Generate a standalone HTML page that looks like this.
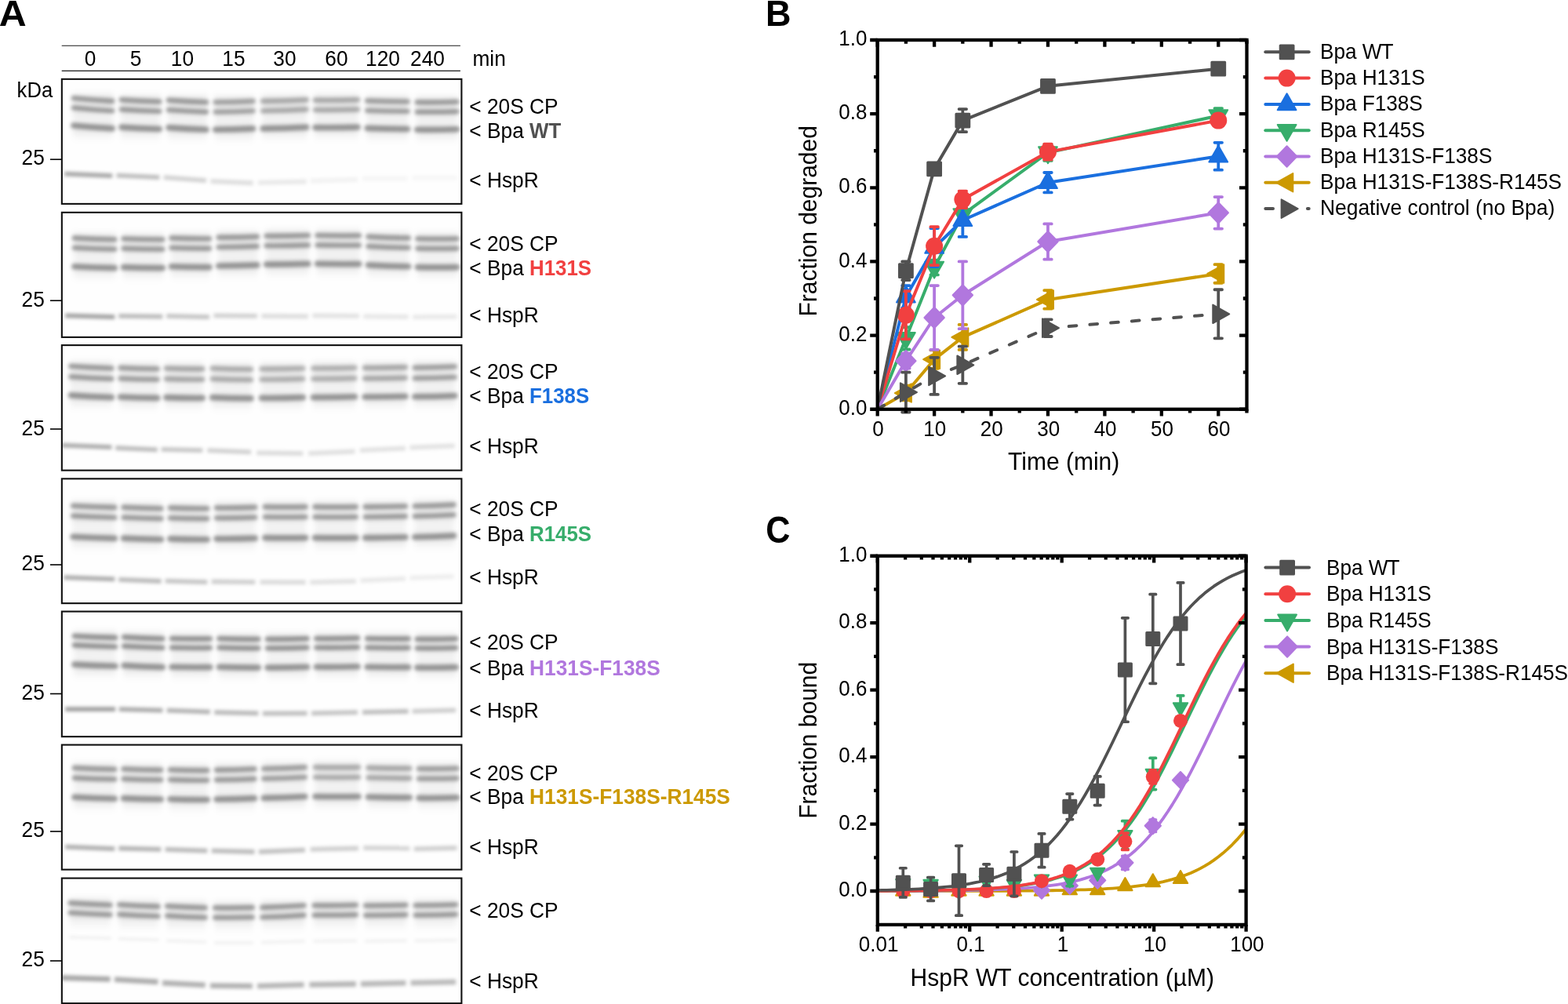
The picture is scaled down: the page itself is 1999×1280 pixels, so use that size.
<!DOCTYPE html>
<html lang="en"><head><meta charset="utf-8"><title>Figure</title>
<style>
html,body{margin:0;padding:0;background:#fff;overflow:hidden}
svg{display:block}
text{font-family:"Liberation Sans",Arial,Helvetica,sans-serif;fill:#000}
.b{font-weight:bold}
</style></head>
<body>
<svg width="1999" height="1280" viewBox="0 0 1999 1280">
<defs>
<filter id="bl0" filterUnits="userSpaceOnUse" x="70" y="95.0" width="530" height="172"><feGaussianBlur stdDeviation="2.3 2.2"/></filter>
<filter id="sm0" filterUnits="userSpaceOnUse" x="70" y="95.0" width="530" height="172"><feGaussianBlur stdDeviation="3 5"/></filter>
<filter id="hs0" filterUnits="userSpaceOnUse" x="70" y="95.0" width="530" height="172"><feGaussianBlur stdDeviation="2.2 2.0"/></filter>
<filter id="bl1" filterUnits="userSpaceOnUse" x="70" y="265.0" width="530" height="172"><feGaussianBlur stdDeviation="2.3 2.2"/></filter>
<filter id="sm1" filterUnits="userSpaceOnUse" x="70" y="265.0" width="530" height="172"><feGaussianBlur stdDeviation="3 5"/></filter>
<filter id="hs1" filterUnits="userSpaceOnUse" x="70" y="265.0" width="530" height="172"><feGaussianBlur stdDeviation="2.2 2.0"/></filter>
<filter id="bl2" filterUnits="userSpaceOnUse" x="70" y="434.25" width="530" height="172"><feGaussianBlur stdDeviation="2.3 2.2"/></filter>
<filter id="sm2" filterUnits="userSpaceOnUse" x="70" y="434.25" width="530" height="172"><feGaussianBlur stdDeviation="3 5"/></filter>
<filter id="hs2" filterUnits="userSpaceOnUse" x="70" y="434.25" width="530" height="172"><feGaussianBlur stdDeviation="2.2 2.0"/></filter>
<filter id="bl3" filterUnits="userSpaceOnUse" x="70" y="604.5" width="530" height="172"><feGaussianBlur stdDeviation="2.3 2.2"/></filter>
<filter id="sm3" filterUnits="userSpaceOnUse" x="70" y="604.5" width="530" height="172"><feGaussianBlur stdDeviation="3 5"/></filter>
<filter id="hs3" filterUnits="userSpaceOnUse" x="70" y="604.5" width="530" height="172"><feGaussianBlur stdDeviation="2.2 2.0"/></filter>
<filter id="bl4" filterUnits="userSpaceOnUse" x="70" y="773.75" width="530" height="172"><feGaussianBlur stdDeviation="2.3 2.2"/></filter>
<filter id="sm4" filterUnits="userSpaceOnUse" x="70" y="773.75" width="530" height="172"><feGaussianBlur stdDeviation="3 5"/></filter>
<filter id="hs4" filterUnits="userSpaceOnUse" x="70" y="773.75" width="530" height="172"><feGaussianBlur stdDeviation="2.2 2.0"/></filter>
<filter id="bl5" filterUnits="userSpaceOnUse" x="70" y="943.75" width="530" height="172"><feGaussianBlur stdDeviation="2.3 2.2"/></filter>
<filter id="sm5" filterUnits="userSpaceOnUse" x="70" y="943.75" width="530" height="172"><feGaussianBlur stdDeviation="3 5"/></filter>
<filter id="hs5" filterUnits="userSpaceOnUse" x="70" y="943.75" width="530" height="172"><feGaussianBlur stdDeviation="2.2 2.0"/></filter>
<filter id="bl6" filterUnits="userSpaceOnUse" x="70" y="1113.75" width="530" height="172"><feGaussianBlur stdDeviation="2.3 2.2"/></filter>
<filter id="sm6" filterUnits="userSpaceOnUse" x="70" y="1113.75" width="530" height="172"><feGaussianBlur stdDeviation="3 5"/></filter>
<filter id="hs6" filterUnits="userSpaceOnUse" x="70" y="1113.75" width="530" height="172"><feGaussianBlur stdDeviation="2.2 2.0"/></filter>
</defs>
<rect width="1999" height="1280" fill="#fff"/>
<g id="panelA">
<text transform="translate(-1.2 33) scale(1.075 1.04)" font-size="45" class="b">A</text>
<line x1="78.7" y1="58.2" x2="586.9" y2="58.2" stroke="#1a1a1a" stroke-width="1.1"/>
<line x1="78.7" y1="90.4" x2="586.9" y2="90.4" stroke="#1a1a1a" stroke-width="1.1"/>
<text transform="translate(115 84.3) scale(1 1.04)" font-size="26.3" text-anchor="middle">0</text>
<text transform="translate(173 84.3) scale(1 1.04)" font-size="26.3" text-anchor="middle">5</text>
<text transform="translate(232.5 84.3) scale(1 1.04)" font-size="26.3" text-anchor="middle">10</text>
<text transform="translate(298 84.3) scale(1 1.04)" font-size="26.3" text-anchor="middle">15</text>
<text transform="translate(363 84.3) scale(1 1.04)" font-size="26.3" text-anchor="middle">30</text>
<text transform="translate(429 84.3) scale(1 1.04)" font-size="26.3" text-anchor="middle">60</text>
<text transform="translate(488 84.3) scale(1 1.04)" font-size="26.3" text-anchor="middle">120</text>
<text transform="translate(545 84.3) scale(1 1.04)" font-size="26.3" text-anchor="middle">240</text>
<text transform="translate(602.4 84.3) scale(1 1.04)" font-size="26.3">min</text>
<text transform="translate(21.6 124.3) scale(1 1.04)" font-size="26.3" textLength="45.6" lengthAdjust="spacingAndGlyphs">kDa</text>
<g id="gel1">
<rect x="78.85" y="100.85" width="509.55" height="159.05" fill="#fefefe"/>
<clipPath id="c0"><rect x="79.5" y="101.5" width="508.25" height="157.75"/></clipPath>
<g clip-path="url(#c0)">
<g filter="url(#sm0)" fill="#000">
<rect x="93.7" y="120.9" width="49.7" height="55.0" opacity="0.04"/>
<rect x="91.7" y="121.4" width="53.7" height="11" opacity="0.075"/>
<rect x="91.7" y="133.9" width="53.7" height="11" opacity="0.075"/>
<rect x="91.7" y="156.4" width="53.7" height="11" opacity="0.075"/>
<rect x="154.7" y="122.3" width="48.9" height="55.0" opacity="0.04"/>
<rect x="152.7" y="122.8" width="52.9" height="11" opacity="0.075"/>
<rect x="152.7" y="135.2" width="52.9" height="11" opacity="0.075"/>
<rect x="152.7" y="157.8" width="52.9" height="11" opacity="0.075"/>
<rect x="214.8" y="122.9" width="48.3" height="55.0" opacity="0.04"/>
<rect x="212.8" y="123.4" width="52.3" height="11" opacity="0.075"/>
<rect x="212.8" y="135.9" width="52.3" height="11" opacity="0.075"/>
<rect x="212.8" y="158.4" width="52.3" height="11" opacity="0.075"/>
<rect x="274.5" y="123.6" width="48.3" height="55.0" opacity="0.04"/>
<rect x="272.5" y="124.1" width="52.3" height="11" opacity="0.075"/>
<rect x="272.5" y="136.6" width="52.3" height="11" opacity="0.075"/>
<rect x="272.5" y="159.1" width="52.3" height="11" opacity="0.075"/>
<rect x="334.9" y="122.0" width="56.0" height="55.0" opacity="0.04"/>
<rect x="332.9" y="122.5" width="60.0" height="11" opacity="0.075"/>
<rect x="332.9" y="135.0" width="60.0" height="11" opacity="0.075"/>
<rect x="332.9" y="157.5" width="60.0" height="11" opacity="0.075"/>
<rect x="401.7" y="121.3" width="54.4" height="55.0" opacity="0.04"/>
<rect x="399.7" y="121.8" width="58.4" height="11" opacity="0.075"/>
<rect x="399.7" y="134.3" width="58.4" height="11" opacity="0.075"/>
<rect x="399.7" y="156.8" width="58.4" height="11" opacity="0.075"/>
<rect x="468.0" y="122.9" width="51.8" height="55.0" opacity="0.04"/>
<rect x="466.0" y="123.4" width="55.8" height="11" opacity="0.075"/>
<rect x="466.0" y="135.9" width="55.8" height="11" opacity="0.075"/>
<rect x="466.0" y="158.4" width="55.8" height="11" opacity="0.075"/>
<rect x="531.6" y="124.0" width="51.0" height="55.0" opacity="0.04"/>
<rect x="529.6" y="124.5" width="55.0" height="11" opacity="0.075"/>
<rect x="529.6" y="137.0" width="55.0" height="11" opacity="0.075"/>
<rect x="529.6" y="159.5" width="55.0" height="11" opacity="0.075"/>
</g>
<g filter="url(#bl0)" stroke="#000" stroke-linecap="round" fill="none">
<path d="M93.9 125.0Q118.5 127.5 143.2 128.9" stroke-width="6.6" opacity="0.32"/>
<path d="M93.9 137.4Q118.5 140.0 143.2 141.4" stroke-width="6.4" opacity="0.32"/>
<path d="M93.9 160.0Q118.5 162.5 143.2 163.9" stroke-width="7.6" opacity="0.35"/>
<path d="M154.9 127.1Q179.1 128.9 203.3 129.5" stroke-width="6.6" opacity="0.32"/>
<path d="M154.9 139.5Q179.1 141.3 203.3 141.9" stroke-width="6.4" opacity="0.32"/>
<path d="M154.9 162.1Q179.1 163.9 203.3 164.5" stroke-width="7.6" opacity="0.35"/>
<path d="M215.0 127.6Q239.0 129.5 263.0 130.3" stroke-width="6.6" opacity="0.32"/>
<path d="M215.0 140.1Q239.0 142.0 263.0 142.7" stroke-width="6.4" opacity="0.32"/>
<path d="M215.0 162.6Q239.0 164.5 263.0 165.3" stroke-width="7.6" opacity="0.35"/>
<path d="M274.7 130.3Q298.7 130.2 322.6 128.9" stroke-width="6.6" opacity="0.294"/>
<path d="M274.7 142.7Q298.7 142.7 322.6 141.4" stroke-width="6.4" opacity="0.294"/>
<path d="M274.7 165.3Q298.7 165.2 322.6 163.9" stroke-width="7.6" opacity="0.35"/>
<path d="M335.1 128.9Q362.9 128.6 390.8 127.1" stroke-width="6.6" opacity="0.262"/>
<path d="M335.1 141.4Q362.9 141.1 390.8 139.5" stroke-width="6.4" opacity="0.262"/>
<path d="M335.1 163.9Q362.9 163.6 390.8 162.1" stroke-width="7.6" opacity="0.35"/>
<path d="M401.9 127.6Q429.0 127.9 456.0 127.1" stroke-width="6.6" opacity="0.262"/>
<path d="M401.9 140.1Q429.0 140.4 456.0 139.5" stroke-width="6.4" opacity="0.262"/>
<path d="M401.9 162.6Q429.0 162.9 456.0 162.1" stroke-width="7.6" opacity="0.35"/>
<path d="M468.2 128.4Q493.9 129.5 519.6 129.5" stroke-width="6.6" opacity="0.304"/>
<path d="M468.2 140.9Q493.9 142.0 519.6 141.9" stroke-width="6.4" opacity="0.304"/>
<path d="M468.2 163.4Q493.9 164.5 519.6 164.5" stroke-width="7.6" opacity="0.35"/>
<path d="M531.8 130.3Q557.1 130.6 582.4 129.7" stroke-width="6.6" opacity="0.32"/>
<path d="M531.8 142.7Q557.1 143.1 582.4 142.2" stroke-width="6.4" opacity="0.32"/>
<path d="M531.8 165.3Q557.1 165.6 582.4 164.7" stroke-width="7.6" opacity="0.35"/>
</g>
<g filter="url(#hs0)" stroke="#000" stroke-linecap="butt" fill="none">
<line x1="82.2" y1="221.7" x2="143.2" y2="224.1" stroke-width="5.8" opacity="0.340"/>
<line x1="148.7" y1="223.6" x2="203.3" y2="226.2" stroke-width="5.8" opacity="0.255"/>
<line x1="208.8" y1="226.2" x2="263.0" y2="230.2" stroke-width="5.8" opacity="0.178"/>
<line x1="268.5" y1="231.0" x2="322.6" y2="233.4" stroke-width="5.8" opacity="0.128"/>
<line x1="328.9" y1="232.9" x2="390.8" y2="231.5" stroke-width="5.8" opacity="0.085"/>
<line x1="395.7" y1="230.7" x2="456.0" y2="228.9" stroke-width="5.8" opacity="0.051"/>
<line x1="462.0" y1="227.6" x2="519.6" y2="227.6" stroke-width="5.8" opacity="0.034"/>
<line x1="525.6" y1="226.8" x2="582.4" y2="226.8" stroke-width="5.8" opacity="0.030"/>
</g>
</g>
<rect x="78.85" y="100.85" width="509.55" height="159.05" fill="none" stroke="#111" stroke-width="2.1"/>
<text transform="translate(27.6 209.75) scale(1 1.04)" font-size="26.3">25</text>
<line x1="64" y1="203.25" x2="78.5" y2="203.25" stroke="#000" stroke-width="1.6"/>
<text transform="translate(598.3 144.5) scale(1 1.04)" font-size="26.3">&lt; 20S CP</text>
<text transform="translate(598.3 175.75) scale(1 1.04)" font-size="26.3">&lt; Bpa <tspan class="b" font-size="25.85" fill="#515151">WT</tspan></text>
<text transform="translate(598.3 238.75) scale(1 1.04)" font-size="26.3">&lt; HspR</text>
</g>
<g id="gel2">
<rect x="78.85" y="270.85" width="509.55" height="159.05" fill="#fefefe"/>
<clipPath id="c1"><rect x="79.5" y="271.5" width="508.25" height="157.75"/></clipPath>
<g clip-path="url(#c1)">
<g filter="url(#sm1)" fill="#000">
<rect x="94.7" y="298.4" width="51.8" height="56.3" opacity="0.04"/>
<rect x="92.7" y="298.9" width="55.8" height="11" opacity="0.075"/>
<rect x="92.7" y="311.3" width="55.8" height="11" opacity="0.075"/>
<rect x="92.7" y="335.2" width="55.8" height="11" opacity="0.075"/>
<rect x="157.3" y="298.8" width="50.2" height="56.3" opacity="0.04"/>
<rect x="155.3" y="299.3" width="54.2" height="11" opacity="0.075"/>
<rect x="155.3" y="311.7" width="54.2" height="11" opacity="0.075"/>
<rect x="155.3" y="335.6" width="54.2" height="11" opacity="0.075"/>
<rect x="218.3" y="297.8" width="48.9" height="56.3" opacity="0.04"/>
<rect x="216.3" y="298.3" width="52.9" height="11" opacity="0.075"/>
<rect x="216.3" y="310.8" width="52.9" height="11" opacity="0.075"/>
<rect x="216.3" y="334.7" width="52.9" height="11" opacity="0.075"/>
<rect x="278.5" y="296.1" width="49.7" height="56.3" opacity="0.04"/>
<rect x="276.5" y="296.6" width="53.7" height="11" opacity="0.075"/>
<rect x="276.5" y="309.1" width="53.7" height="11" opacity="0.075"/>
<rect x="276.5" y="332.9" width="53.7" height="11" opacity="0.075"/>
<rect x="339.4" y="294.4" width="53.7" height="56.3" opacity="0.04"/>
<rect x="337.4" y="294.9" width="57.7" height="11" opacity="0.075"/>
<rect x="337.4" y="307.4" width="57.7" height="11" opacity="0.075"/>
<rect x="337.4" y="331.2" width="57.7" height="11" opacity="0.075"/>
<rect x="404.4" y="294.1" width="53.7" height="56.3" opacity="0.04"/>
<rect x="402.4" y="294.6" width="57.7" height="11" opacity="0.075"/>
<rect x="402.4" y="307.1" width="57.7" height="11" opacity="0.075"/>
<rect x="402.4" y="330.9" width="57.7" height="11" opacity="0.075"/>
<rect x="469.3" y="296.5" width="51.5" height="56.3" opacity="0.04"/>
<rect x="467.3" y="297.0" width="55.5" height="11" opacity="0.075"/>
<rect x="467.3" y="309.5" width="55.5" height="11" opacity="0.075"/>
<rect x="467.3" y="333.3" width="55.5" height="11" opacity="0.075"/>
<rect x="532.2" y="298.2" width="50.5" height="56.3" opacity="0.04"/>
<rect x="530.2" y="298.7" width="54.5" height="11" opacity="0.075"/>
<rect x="530.2" y="311.2" width="54.5" height="11" opacity="0.075"/>
<rect x="530.2" y="335.1" width="54.5" height="11" opacity="0.075"/>
</g>
<g filter="url(#bl1)" stroke="#000" stroke-linecap="round" fill="none">
<path d="M94.9 303.4Q120.6 305.0 146.3 305.3" stroke-width="6.6" opacity="0.32"/>
<path d="M94.9 315.9Q120.6 317.4 146.3 317.8" stroke-width="6.4" opacity="0.32"/>
<path d="M94.9 339.8Q120.6 341.3 146.3 341.6" stroke-width="7.6" opacity="0.35"/>
<path d="M157.5 304.2Q182.4 305.4 207.3 305.3" stroke-width="6.6" opacity="0.32"/>
<path d="M157.5 316.7Q182.4 317.8 207.3 317.8" stroke-width="6.4" opacity="0.32"/>
<path d="M157.5 340.6Q182.4 341.7 207.3 341.6" stroke-width="7.6" opacity="0.35"/>
<path d="M218.5 303.4Q242.7 304.4 267.0 304.2" stroke-width="6.6" opacity="0.32"/>
<path d="M218.5 315.9Q242.7 316.9 267.0 316.7" stroke-width="6.4" opacity="0.32"/>
<path d="M218.5 339.8Q242.7 340.8 267.0 340.6" stroke-width="7.6" opacity="0.35"/>
<path d="M278.7 302.6Q303.3 302.7 327.9 301.6" stroke-width="6.6" opacity="0.32"/>
<path d="M278.7 315.1Q303.3 315.2 327.9 314.0" stroke-width="6.4" opacity="0.32"/>
<path d="M278.7 339.0Q303.3 339.0 327.9 337.9" stroke-width="7.6" opacity="0.35"/>
<path d="M339.6 300.8Q366.3 301.0 392.9 300.0" stroke-width="6.6" opacity="0.32"/>
<path d="M339.6 313.3Q366.3 313.5 392.9 312.5" stroke-width="6.4" opacity="0.32"/>
<path d="M339.6 337.1Q366.3 337.3 392.9 336.3" stroke-width="7.6" opacity="0.35"/>
<path d="M404.6 300.0Q431.2 300.7 457.8 300.3" stroke-width="6.6" opacity="0.32"/>
<path d="M404.6 312.5Q431.2 313.2 457.8 312.7" stroke-width="6.4" opacity="0.32"/>
<path d="M404.6 336.3Q431.2 337.0 457.8 336.6" stroke-width="7.6" opacity="0.35"/>
<path d="M469.5 301.6Q495.1 303.1 520.7 303.4" stroke-width="6.6" opacity="0.32"/>
<path d="M469.5 314.0Q495.1 315.6 520.7 315.9" stroke-width="6.4" opacity="0.32"/>
<path d="M469.5 337.9Q495.1 339.4 520.7 339.8" stroke-width="7.6" opacity="0.35"/>
<path d="M532.4 304.2Q557.4 304.8 582.4 304.2" stroke-width="6.6" opacity="0.32"/>
<path d="M532.4 316.7Q557.4 317.3 582.4 316.7" stroke-width="6.4" opacity="0.32"/>
<path d="M532.4 340.6Q557.4 341.2 582.4 340.6" stroke-width="7.6" opacity="0.35"/>
</g>
<g filter="url(#hs1)" stroke="#000" stroke-linecap="butt" fill="none">
<line x1="83.2" y1="402.3" x2="146.3" y2="404.2" stroke-width="5.8" opacity="0.361"/>
<line x1="151.3" y1="402.9" x2="207.3" y2="403.7" stroke-width="5.8" opacity="0.266"/>
<line x1="212.3" y1="402.9" x2="267.0" y2="404.2" stroke-width="5.8" opacity="0.228"/>
<line x1="272.5" y1="402.3" x2="327.9" y2="402.9" stroke-width="5.8" opacity="0.180"/>
<line x1="333.4" y1="402.9" x2="392.9" y2="403.4" stroke-width="5.8" opacity="0.133"/>
<line x1="398.4" y1="402.3" x2="457.8" y2="402.9" stroke-width="5.8" opacity="0.114"/>
<line x1="463.3" y1="403.4" x2="520.7" y2="403.9" stroke-width="5.8" opacity="0.095"/>
<line x1="526.2" y1="404.2" x2="582.4" y2="403.7" stroke-width="5.8" opacity="0.085"/>
</g>
</g>
<rect x="78.85" y="270.85" width="509.55" height="159.05" fill="none" stroke="#111" stroke-width="2.1"/>
<text transform="translate(27.6 391.0) scale(1 1.04)" font-size="26.3">25</text>
<line x1="64" y1="383.25" x2="78.5" y2="383.25" stroke="#000" stroke-width="1.6"/>
<text transform="translate(598.3 320) scale(1 1.04)" font-size="26.3">&lt; 20S CP</text>
<text transform="translate(598.3 350.75) scale(1 1.04)" font-size="26.3">&lt; Bpa <tspan class="b" font-size="25.85" fill="#F14040">H131S</tspan></text>
<text transform="translate(598.3 410.75) scale(1 1.04)" font-size="26.3">&lt; HspR</text>
</g>
<g id="gel3">
<rect x="78.85" y="440.1" width="509.55" height="159.55" fill="#fefefe"/>
<clipPath id="c2"><rect x="79.5" y="440.75" width="508.25" height="158.25"/></clipPath>
<g clip-path="url(#c2)">
<g filter="url(#sm2)" fill="#000">
<rect x="90.2" y="462.1" width="52.3" height="57.1" opacity="0.04"/>
<rect x="88.2" y="462.6" width="56.3" height="11" opacity="0.075"/>
<rect x="88.2" y="476.2" width="56.3" height="11" opacity="0.075"/>
<rect x="88.2" y="499.8" width="56.3" height="11" opacity="0.075"/>
<rect x="153.3" y="463.6" width="47.6" height="57.1" opacity="0.04"/>
<rect x="151.3" y="464.1" width="51.6" height="11" opacity="0.075"/>
<rect x="151.3" y="477.6" width="51.6" height="11" opacity="0.075"/>
<rect x="151.3" y="501.2" width="51.6" height="11" opacity="0.075"/>
<rect x="211.7" y="463.9" width="46.8" height="57.1" opacity="0.04"/>
<rect x="209.7" y="464.4" width="50.8" height="11" opacity="0.075"/>
<rect x="209.7" y="477.9" width="50.8" height="11" opacity="0.075"/>
<rect x="209.7" y="501.5" width="50.8" height="11" opacity="0.075"/>
<rect x="270.5" y="464.1" width="49.7" height="57.1" opacity="0.04"/>
<rect x="268.5" y="464.6" width="53.7" height="11" opacity="0.075"/>
<rect x="268.5" y="478.1" width="53.7" height="11" opacity="0.075"/>
<rect x="268.5" y="501.7" width="53.7" height="11" opacity="0.075"/>
<rect x="333.3" y="463.9" width="53.1" height="57.1" opacity="0.04"/>
<rect x="331.3" y="464.4" width="57.1" height="11" opacity="0.075"/>
<rect x="331.3" y="477.9" width="57.1" height="11" opacity="0.075"/>
<rect x="331.3" y="501.5" width="57.1" height="11" opacity="0.075"/>
<rect x="399.1" y="463.1" width="53.7" height="57.1" opacity="0.04"/>
<rect x="397.1" y="463.6" width="57.7" height="11" opacity="0.075"/>
<rect x="397.1" y="477.1" width="57.7" height="11" opacity="0.075"/>
<rect x="397.1" y="500.7" width="57.7" height="11" opacity="0.075"/>
<rect x="464.8" y="462.5" width="52.3" height="57.1" opacity="0.04"/>
<rect x="462.8" y="463.0" width="56.3" height="11" opacity="0.075"/>
<rect x="462.8" y="476.6" width="56.3" height="11" opacity="0.075"/>
<rect x="462.8" y="500.2" width="56.3" height="11" opacity="0.075"/>
<rect x="528.5" y="462.0" width="51.5" height="57.1" opacity="0.04"/>
<rect x="526.5" y="462.5" width="55.5" height="11" opacity="0.075"/>
<rect x="526.5" y="476.0" width="55.5" height="11" opacity="0.075"/>
<rect x="526.5" y="499.6" width="55.5" height="11" opacity="0.075"/>
</g>
<g filter="url(#bl2)" stroke="#000" stroke-linecap="round" fill="none">
<path d="M90.4 466.8Q116.4 468.7 142.4 469.5" stroke-width="6.6" opacity="0.32"/>
<path d="M90.4 480.3Q116.4 482.3 142.4 483.0" stroke-width="6.4" opacity="0.32"/>
<path d="M90.4 503.9Q116.4 505.9 142.4 506.6" stroke-width="7.6" opacity="0.35"/>
<path d="M153.5 468.9Q177.1 470.2 200.7 470.3" stroke-width="6.6" opacity="0.304"/>
<path d="M153.5 482.5Q177.1 483.7 200.7 483.8" stroke-width="6.4" opacity="0.304"/>
<path d="M153.5 506.0Q177.1 507.3 200.7 507.4" stroke-width="7.6" opacity="0.35"/>
<path d="M211.9 469.5Q235.0 470.5 258.2 470.3" stroke-width="6.6" opacity="0.272"/>
<path d="M211.9 483.0Q235.0 484.0 258.2 483.8" stroke-width="6.4" opacity="0.272"/>
<path d="M211.9 506.6Q235.0 507.6 258.2 507.4" stroke-width="7.6" opacity="0.35"/>
<path d="M270.7 469.5Q295.3 470.7 320.0 470.8" stroke-width="6.6" opacity="0.256"/>
<path d="M270.7 483.0Q295.3 484.2 320.0 484.3" stroke-width="6.4" opacity="0.256"/>
<path d="M270.7 506.6Q295.3 507.8 320.0 507.9" stroke-width="7.6" opacity="0.35"/>
<path d="M333.5 470.3Q359.9 470.5 386.3 469.5" stroke-width="6.6" opacity="0.24"/>
<path d="M333.5 483.8Q359.9 484.0 386.3 483.0" stroke-width="6.4" opacity="0.24"/>
<path d="M333.5 507.4Q359.9 507.6 386.3 506.6" stroke-width="7.6" opacity="0.35"/>
<path d="M399.3 469.5Q425.9 469.7 452.5 468.7" stroke-width="6.6" opacity="0.24"/>
<path d="M399.3 483.0Q425.9 483.2 452.5 482.2" stroke-width="6.4" opacity="0.24"/>
<path d="M399.3 506.6Q425.9 506.8 452.5 505.8" stroke-width="7.6" opacity="0.35"/>
<path d="M465.0 468.9Q491.0 469.1 517.0 468.1" stroke-width="6.6" opacity="0.272"/>
<path d="M465.0 482.5Q491.0 482.7 517.0 481.7" stroke-width="6.4" opacity="0.272"/>
<path d="M465.0 506.0Q491.0 506.3 517.0 505.3" stroke-width="7.6" opacity="0.35"/>
<path d="M528.7 468.7Q554.2 468.6 579.8 467.3" stroke-width="6.6" opacity="0.304"/>
<path d="M528.7 482.2Q554.2 482.1 579.8 480.9" stroke-width="6.4" opacity="0.304"/>
<path d="M528.7 505.8Q554.2 505.7 579.8 504.5" stroke-width="7.6" opacity="0.35"/>
</g>
<g filter="url(#hs2)" stroke="#000" stroke-linecap="butt" fill="none">
<line x1="78.7" y1="567.6" x2="142.4" y2="570.2" stroke-width="5.8" opacity="0.323"/>
<line x1="147.3" y1="571.0" x2="200.7" y2="573.4" stroke-width="5.8" opacity="0.257"/>
<line x1="205.7" y1="572.9" x2="258.2" y2="574.2" stroke-width="5.8" opacity="0.218"/>
<line x1="264.5" y1="574.2" x2="320.0" y2="576.3" stroke-width="5.8" opacity="0.180"/>
<line x1="327.3" y1="577.4" x2="386.3" y2="578.2" stroke-width="5.8" opacity="0.142"/>
<line x1="393.1" y1="578.2" x2="452.5" y2="575.5" stroke-width="5.8" opacity="0.123"/>
<line x1="458.8" y1="574.2" x2="517.0" y2="571.5" stroke-width="5.8" opacity="0.114"/>
<line x1="522.5" y1="570.7" x2="579.8" y2="568.4" stroke-width="5.8" opacity="0.114"/>
</g>
</g>
<rect x="78.85" y="440.1" width="509.55" height="159.55" fill="none" stroke="#111" stroke-width="2.1"/>
<text transform="translate(27.6 554.75) scale(1 1.04)" font-size="26.3">25</text>
<line x1="64" y1="547.0" x2="78.5" y2="547.0" stroke="#000" stroke-width="1.6"/>
<text transform="translate(598.3 482.5) scale(1 1.04)" font-size="26.3">&lt; 20S CP</text>
<text transform="translate(598.3 513.5) scale(1 1.04)" font-size="26.3">&lt; Bpa <tspan class="b" font-size="25.85" fill="#1A6FDF">F138S</tspan></text>
<text transform="translate(598.3 578) scale(1 1.04)" font-size="26.3">&lt; HspR</text>
</g>
<g id="gel4">
<rect x="78.85" y="610.35" width="509.55" height="158.80" fill="#fefefe"/>
<clipPath id="c3"><rect x="79.5" y="611.0" width="508.25" height="157.50"/></clipPath>
<g clip-path="url(#c3)">
<g filter="url(#sm3)" fill="#000">
<rect x="92.9" y="639.8" width="53.7" height="59.5" opacity="0.04"/>
<rect x="90.9" y="640.3" width="57.7" height="11" opacity="0.075"/>
<rect x="90.9" y="653.3" width="57.7" height="11" opacity="0.075"/>
<rect x="90.9" y="679.8" width="57.7" height="11" opacity="0.075"/>
<rect x="157.3" y="641.4" width="48.3" height="59.5" opacity="0.04"/>
<rect x="155.3" y="641.9" width="52.3" height="11" opacity="0.075"/>
<rect x="155.3" y="654.9" width="52.3" height="11" opacity="0.075"/>
<rect x="155.3" y="681.4" width="52.3" height="11" opacity="0.075"/>
<rect x="216.7" y="641.8" width="47.8" height="59.5" opacity="0.04"/>
<rect x="214.7" y="642.3" width="51.8" height="11" opacity="0.075"/>
<rect x="214.7" y="655.3" width="51.8" height="11" opacity="0.075"/>
<rect x="214.7" y="681.8" width="51.8" height="11" opacity="0.075"/>
<rect x="275.8" y="641.0" width="49.7" height="59.5" opacity="0.04"/>
<rect x="273.8" y="641.5" width="53.7" height="11" opacity="0.075"/>
<rect x="273.8" y="654.5" width="53.7" height="11" opacity="0.075"/>
<rect x="273.8" y="681.0" width="53.7" height="11" opacity="0.075"/>
<rect x="337.6" y="640.1" width="52.3" height="59.5" opacity="0.04"/>
<rect x="335.6" y="640.6" width="56.3" height="11" opacity="0.075"/>
<rect x="335.6" y="653.6" width="56.3" height="11" opacity="0.075"/>
<rect x="335.6" y="680.1" width="56.3" height="11" opacity="0.075"/>
<rect x="401.2" y="640.1" width="52.9" height="59.5" opacity="0.04"/>
<rect x="399.2" y="640.6" width="56.9" height="11" opacity="0.075"/>
<rect x="399.2" y="653.6" width="56.9" height="11" opacity="0.075"/>
<rect x="399.2" y="680.1" width="56.9" height="11" opacity="0.075"/>
<rect x="465.4" y="639.7" width="51.8" height="59.5" opacity="0.04"/>
<rect x="463.4" y="640.2" width="55.8" height="11" opacity="0.075"/>
<rect x="463.4" y="653.2" width="55.8" height="11" opacity="0.075"/>
<rect x="463.4" y="679.7" width="55.8" height="11" opacity="0.075"/>
<rect x="528.5" y="638.4" width="50.2" height="59.5" opacity="0.04"/>
<rect x="526.5" y="638.9" width="54.2" height="11" opacity="0.075"/>
<rect x="526.5" y="651.9" width="54.2" height="11" opacity="0.075"/>
<rect x="526.5" y="678.4" width="54.2" height="11" opacity="0.075"/>
</g>
<g filter="url(#bl3)" stroke="#000" stroke-linecap="round" fill="none">
<path d="M93.1 644.8Q119.7 646.4 146.3 646.9" stroke-width="6.6" opacity="0.32"/>
<path d="M93.1 657.8Q119.7 659.4 146.3 659.9" stroke-width="6.4" opacity="0.32"/>
<path d="M93.1 684.3Q119.7 685.9 146.3 686.4" stroke-width="7.6" opacity="0.35"/>
<path d="M157.5 646.6Q181.5 648.0 205.5 648.2" stroke-width="6.6" opacity="0.32"/>
<path d="M157.5 659.6Q181.5 661.0 205.5 661.2" stroke-width="6.4" opacity="0.32"/>
<path d="M157.5 686.1Q181.5 687.5 205.5 687.7" stroke-width="7.6" opacity="0.35"/>
<path d="M216.9 647.4Q240.6 648.4 264.3 648.2" stroke-width="6.6" opacity="0.32"/>
<path d="M216.9 660.4Q240.6 661.4 264.3 661.2" stroke-width="6.4" opacity="0.32"/>
<path d="M216.9 686.9Q240.6 687.9 264.3 687.7" stroke-width="7.6" opacity="0.35"/>
<path d="M276.0 647.4Q300.6 647.6 325.3 646.6" stroke-width="6.6" opacity="0.32"/>
<path d="M276.0 660.4Q300.6 660.6 325.3 659.6" stroke-width="6.4" opacity="0.32"/>
<path d="M276.0 686.9Q300.6 687.1 325.3 686.1" stroke-width="7.6" opacity="0.35"/>
<path d="M337.8 646.1Q363.7 646.7 389.7 646.1" stroke-width="6.6" opacity="0.32"/>
<path d="M337.8 659.1Q363.7 659.7 389.7 659.1" stroke-width="6.4" opacity="0.32"/>
<path d="M337.8 685.6Q363.7 686.2 389.7 685.6" stroke-width="7.6" opacity="0.35"/>
<path d="M401.4 646.1Q427.6 646.7 453.9 646.1" stroke-width="6.6" opacity="0.32"/>
<path d="M401.4 659.1Q427.6 659.7 453.9 659.1" stroke-width="6.4" opacity="0.32"/>
<path d="M401.4 685.6Q427.6 686.2 453.9 685.6" stroke-width="7.6" opacity="0.35"/>
<path d="M465.6 646.1Q491.3 646.3 517.0 645.3" stroke-width="6.6" opacity="0.32"/>
<path d="M465.6 659.1Q491.3 659.3 517.0 658.3" stroke-width="6.4" opacity="0.32"/>
<path d="M465.6 685.6Q491.3 685.8 517.0 684.8" stroke-width="7.6" opacity="0.35"/>
<path d="M528.7 645.3Q553.6 645.0 578.5 643.4" stroke-width="6.6" opacity="0.32"/>
<path d="M528.7 658.3Q553.6 658.0 578.5 656.4" stroke-width="6.4" opacity="0.32"/>
<path d="M528.7 684.8Q553.6 684.5 578.5 682.9" stroke-width="7.6" opacity="0.35"/>
</g>
<g filter="url(#hs3)" stroke="#000" stroke-linecap="butt" fill="none">
<line x1="81.4" y1="736.2" x2="146.3" y2="738.4" stroke-width="5.8" opacity="0.323"/>
<line x1="151.3" y1="738.9" x2="205.5" y2="741.0" stroke-width="5.8" opacity="0.266"/>
<line x1="210.7" y1="740.7" x2="264.3" y2="742.1" stroke-width="5.8" opacity="0.228"/>
<line x1="269.8" y1="741.5" x2="325.3" y2="742.1" stroke-width="5.8" opacity="0.190"/>
<line x1="331.6" y1="742.1" x2="389.7" y2="742.3" stroke-width="5.8" opacity="0.142"/>
<line x1="395.2" y1="742.3" x2="453.9" y2="741.0" stroke-width="5.8" opacity="0.114"/>
<line x1="459.4" y1="740.2" x2="517.0" y2="737.6" stroke-width="5.8" opacity="0.085"/>
<line x1="522.5" y1="736.8" x2="578.5" y2="734.9" stroke-width="5.8" opacity="0.067"/>
</g>
</g>
<rect x="78.85" y="610.35" width="509.55" height="158.80" fill="none" stroke="#111" stroke-width="2.1"/>
<text transform="translate(27.6 727.25) scale(1 1.04)" font-size="26.3">25</text>
<line x1="64" y1="720.0" x2="78.5" y2="720.0" stroke="#000" stroke-width="1.6"/>
<text transform="translate(598.3 657.5) scale(1 1.04)" font-size="26.3">&lt; 20S CP</text>
<text transform="translate(598.3 689.5) scale(1 1.04)" font-size="26.3">&lt; Bpa <tspan class="b" font-size="25.85" fill="#37AD6B">R145S</tspan></text>
<text transform="translate(598.3 745) scale(1 1.04)" font-size="26.3">&lt; HspR</text>
</g>
<g id="gel5">
<rect x="78.85" y="779.6" width="509.55" height="159.55" fill="#fefefe"/>
<clipPath id="c4"><rect x="79.5" y="780.25" width="508.25" height="158.25"/></clipPath>
<g clip-path="url(#c4)">
<g filter="url(#sm4)" fill="#000">
<rect x="94.7" y="805.9" width="52.6" height="56.3" opacity="0.04"/>
<rect x="92.7" y="806.4" width="56.6" height="11" opacity="0.075"/>
<rect x="92.7" y="818.0" width="56.6" height="11" opacity="0.075"/>
<rect x="92.7" y="842.7" width="56.6" height="11" opacity="0.075"/>
<rect x="157.8" y="807.2" width="49.7" height="56.3" opacity="0.04"/>
<rect x="155.8" y="807.7" width="53.7" height="11" opacity="0.075"/>
<rect x="155.8" y="819.3" width="53.7" height="11" opacity="0.075"/>
<rect x="155.8" y="844.0" width="53.7" height="11" opacity="0.075"/>
<rect x="218.8" y="808.1" width="49.1" height="56.3" opacity="0.04"/>
<rect x="216.8" y="808.6" width="53.1" height="11" opacity="0.075"/>
<rect x="216.8" y="820.3" width="53.1" height="11" opacity="0.075"/>
<rect x="216.8" y="844.9" width="53.1" height="11" opacity="0.075"/>
<rect x="279.3" y="808.4" width="50.2" height="56.3" opacity="0.04"/>
<rect x="277.3" y="808.9" width="54.2" height="11" opacity="0.075"/>
<rect x="277.3" y="820.5" width="54.2" height="11" opacity="0.075"/>
<rect x="277.3" y="845.2" width="54.2" height="11" opacity="0.075"/>
<rect x="340.8" y="808.4" width="51.0" height="56.3" opacity="0.04"/>
<rect x="338.8" y="808.9" width="55.0" height="11" opacity="0.075"/>
<rect x="338.8" y="820.5" width="55.0" height="11" opacity="0.075"/>
<rect x="338.8" y="845.2" width="55.0" height="11" opacity="0.075"/>
<rect x="403.1" y="807.7" width="53.1" height="56.3" opacity="0.04"/>
<rect x="401.1" y="808.2" width="57.1" height="11" opacity="0.075"/>
<rect x="401.1" y="819.9" width="57.1" height="11" opacity="0.075"/>
<rect x="401.1" y="844.5" width="57.1" height="11" opacity="0.075"/>
<rect x="468.0" y="808.1" width="52.9" height="56.3" opacity="0.04"/>
<rect x="466.0" y="808.6" width="56.9" height="11" opacity="0.075"/>
<rect x="466.0" y="820.3" width="56.9" height="11" opacity="0.075"/>
<rect x="466.0" y="844.9" width="56.9" height="11" opacity="0.075"/>
<rect x="531.6" y="808.5" width="49.7" height="56.3" opacity="0.04"/>
<rect x="529.6" y="809.0" width="53.7" height="11" opacity="0.075"/>
<rect x="529.6" y="820.7" width="53.7" height="11" opacity="0.075"/>
<rect x="529.6" y="845.3" width="53.7" height="11" opacity="0.075"/>
</g>
<g filter="url(#bl4)" stroke="#000" stroke-linecap="round" fill="none">
<path d="M94.9 810.8Q121.0 812.5 147.1 812.9" stroke-width="6.6" opacity="0.352"/>
<path d="M94.9 822.5Q121.0 824.1 147.1 824.6" stroke-width="6.4" opacity="0.352"/>
<path d="M94.9 847.1Q121.0 848.8 147.1 849.2" stroke-width="7.6" opacity="0.35"/>
<path d="M158.0 812.1Q182.7 813.8 207.3 814.2" stroke-width="6.6" opacity="0.352"/>
<path d="M158.0 823.8Q182.7 825.4 207.3 825.9" stroke-width="6.4" opacity="0.352"/>
<path d="M158.0 848.4Q182.7 850.1 207.3 850.6" stroke-width="7.6" opacity="0.35"/>
<path d="M219.0 814.0Q243.4 814.7 267.8 814.2" stroke-width="6.6" opacity="0.352"/>
<path d="M219.0 825.6Q243.4 826.4 267.8 825.9" stroke-width="6.4" opacity="0.352"/>
<path d="M219.0 850.3Q243.4 851.0 267.8 850.6" stroke-width="7.6" opacity="0.35"/>
<path d="M279.5 814.0Q304.4 815.0 329.3 814.8" stroke-width="6.6" opacity="0.352"/>
<path d="M279.5 825.6Q304.4 826.6 329.3 826.4" stroke-width="6.4" opacity="0.352"/>
<path d="M279.5 850.3Q304.4 851.3 329.3 851.1" stroke-width="7.6" opacity="0.35"/>
<path d="M341.0 814.8Q366.3 815.0 391.6 814.0" stroke-width="6.6" opacity="0.352"/>
<path d="M341.0 826.4Q366.3 826.6 391.6 825.6" stroke-width="6.4" opacity="0.352"/>
<path d="M341.0 851.1Q366.3 851.3 391.6 850.3" stroke-width="7.6" opacity="0.35"/>
<path d="M403.3 814.0Q429.6 814.3 456.0 813.4" stroke-width="6.6" opacity="0.352"/>
<path d="M403.3 825.6Q429.6 826.0 456.0 825.1" stroke-width="6.4" opacity="0.352"/>
<path d="M403.3 850.3Q429.6 850.6 456.0 849.8" stroke-width="7.6" opacity="0.35"/>
<path d="M468.2 814.0Q494.4 814.7 520.7 814.2" stroke-width="6.6" opacity="0.352"/>
<path d="M468.2 825.6Q494.4 826.4 520.7 825.9" stroke-width="6.4" opacity="0.352"/>
<path d="M468.2 850.3Q494.4 851.0 520.7 850.6" stroke-width="7.6" opacity="0.35"/>
<path d="M531.8 814.8Q556.5 815.1 581.1 814.2" stroke-width="6.6" opacity="0.352"/>
<path d="M531.8 826.4Q556.5 826.8 581.1 825.9" stroke-width="6.4" opacity="0.352"/>
<path d="M531.8 851.1Q556.5 851.4 581.1 850.6" stroke-width="7.6" opacity="0.35"/>
</g>
<g filter="url(#hs4)" stroke="#000" stroke-linecap="butt" fill="none">
<line x1="83.2" y1="904.1" x2="147.1" y2="904.1" stroke-width="5.8" opacity="0.374"/>
<line x1="151.8" y1="904.1" x2="207.3" y2="905.7" stroke-width="5.8" opacity="0.330"/>
<line x1="212.8" y1="905.7" x2="267.8" y2="907.6" stroke-width="5.8" opacity="0.297"/>
<line x1="273.3" y1="908.1" x2="329.3" y2="909.4" stroke-width="5.8" opacity="0.275"/>
<line x1="334.8" y1="909.7" x2="391.6" y2="909.4" stroke-width="5.8" opacity="0.253"/>
<line x1="397.1" y1="909.4" x2="456.0" y2="908.1" stroke-width="5.8" opacity="0.231"/>
<line x1="462.0" y1="908.1" x2="520.7" y2="906.8" stroke-width="5.8" opacity="0.253"/>
<line x1="525.6" y1="906.8" x2="581.1" y2="905.4" stroke-width="5.8" opacity="0.198"/>
</g>
</g>
<rect x="78.85" y="779.6" width="509.55" height="159.55" fill="none" stroke="#111" stroke-width="2.1"/>
<text transform="translate(27.6 891.5) scale(1 1.04)" font-size="26.3">25</text>
<line x1="64" y1="884.5" x2="78.5" y2="884.5" stroke="#000" stroke-width="1.6"/>
<text transform="translate(598.3 827.5) scale(1 1.04)" font-size="26.3">&lt; 20S CP</text>
<text transform="translate(598.3 861.25) scale(1 1.04)" font-size="26.3">&lt; Bpa <tspan class="b" font-size="26.3" fill="#B177DE">H131S-F138S</tspan></text>
<text transform="translate(598.3 914.5) scale(1 1.04)" font-size="26.3">&lt; HspR</text>
</g>
<g id="gel6">
<rect x="78.85" y="949.6" width="509.55" height="159.05" fill="#fefefe"/>
<clipPath id="c5"><rect x="79.5" y="950.25" width="508.25" height="157.75"/></clipPath>
<g clip-path="url(#c5)">
<g filter="url(#sm5)" fill="#000">
<rect x="94.7" y="973.9" width="51.8" height="57.4" opacity="0.04"/>
<rect x="92.7" y="974.4" width="55.8" height="11" opacity="0.075"/>
<rect x="92.7" y="987.1" width="55.8" height="11" opacity="0.075"/>
<rect x="92.7" y="1011.7" width="55.8" height="11" opacity="0.075"/>
<rect x="157.3" y="974.9" width="48.1" height="57.4" opacity="0.04"/>
<rect x="155.3" y="975.4" width="52.1" height="11" opacity="0.075"/>
<rect x="155.3" y="988.1" width="52.1" height="11" opacity="0.075"/>
<rect x="155.3" y="1012.8" width="52.1" height="11" opacity="0.075"/>
<rect x="216.7" y="975.7" width="47.8" height="57.4" opacity="0.04"/>
<rect x="214.7" y="976.2" width="51.8" height="11" opacity="0.075"/>
<rect x="214.7" y="988.9" width="51.8" height="11" opacity="0.075"/>
<rect x="214.7" y="1013.6" width="51.8" height="11" opacity="0.075"/>
<rect x="275.8" y="974.9" width="48.9" height="57.4" opacity="0.04"/>
<rect x="273.8" y="975.4" width="52.9" height="11" opacity="0.075"/>
<rect x="273.8" y="988.1" width="52.9" height="11" opacity="0.075"/>
<rect x="273.8" y="1012.8" width="52.9" height="11" opacity="0.075"/>
<rect x="336.0" y="973.1" width="53.1" height="57.4" opacity="0.04"/>
<rect x="334.0" y="973.6" width="57.1" height="11" opacity="0.075"/>
<rect x="334.0" y="986.3" width="57.1" height="11" opacity="0.075"/>
<rect x="334.0" y="1010.9" width="57.1" height="11" opacity="0.075"/>
<rect x="401.7" y="972.1" width="55.5" height="57.4" opacity="0.04"/>
<rect x="399.7" y="972.6" width="59.5" height="11" opacity="0.075"/>
<rect x="399.7" y="985.4" width="59.5" height="11" opacity="0.075"/>
<rect x="399.7" y="1010.0" width="59.5" height="11" opacity="0.075"/>
<rect x="469.3" y="973.1" width="53.1" height="57.4" opacity="0.04"/>
<rect x="467.3" y="973.6" width="57.1" height="11" opacity="0.075"/>
<rect x="467.3" y="986.3" width="57.1" height="11" opacity="0.075"/>
<rect x="467.3" y="1010.9" width="57.1" height="11" opacity="0.075"/>
<rect x="533.8" y="973.7" width="48.9" height="57.4" opacity="0.04"/>
<rect x="531.8" y="974.2" width="52.9" height="11" opacity="0.075"/>
<rect x="531.8" y="987.0" width="52.9" height="11" opacity="0.075"/>
<rect x="531.8" y="1011.6" width="52.9" height="11" opacity="0.075"/>
</g>
<g filter="url(#bl5)" stroke="#000" stroke-linecap="round" fill="none">
<path d="M94.9 978.9Q120.6 980.5 146.3 980.8" stroke-width="6.6" opacity="0.32"/>
<path d="M94.9 991.7Q120.6 993.2 146.3 993.5" stroke-width="6.4" opacity="0.32"/>
<path d="M94.9 1016.3Q120.6 1017.8 146.3 1018.2" stroke-width="7.6" opacity="0.35"/>
<path d="M157.5 980.3Q181.3 981.5 205.2 981.6" stroke-width="6.6" opacity="0.32"/>
<path d="M157.5 993.0Q181.3 994.2 205.2 994.3" stroke-width="6.4" opacity="0.32"/>
<path d="M157.5 1017.6Q181.3 1018.9 205.2 1019.0" stroke-width="7.6" opacity="0.35"/>
<path d="M216.9 981.3Q240.6 982.3 264.3 982.1" stroke-width="6.6" opacity="0.32"/>
<path d="M216.9 994.0Q240.6 995.0 264.3 994.8" stroke-width="6.4" opacity="0.32"/>
<path d="M216.9 1018.7Q240.6 1019.7 264.3 1019.5" stroke-width="7.6" opacity="0.35"/>
<path d="M276.0 981.6Q300.2 981.5 324.5 980.3" stroke-width="6.6" opacity="0.32"/>
<path d="M276.0 994.3Q300.2 994.2 324.5 993.0" stroke-width="6.4" opacity="0.32"/>
<path d="M276.0 1019.0Q300.2 1018.9 324.5 1017.6" stroke-width="7.6" opacity="0.35"/>
<path d="M336.2 980.0Q362.6 979.7 388.9 978.1" stroke-width="6.6" opacity="0.304"/>
<path d="M336.2 992.7Q362.6 992.4 388.9 990.9" stroke-width="6.4" opacity="0.304"/>
<path d="M336.2 1017.4Q362.6 1017.0 388.9 1015.5" stroke-width="7.6" opacity="0.35"/>
<path d="M401.9 978.1Q429.5 978.7 457.0 978.1" stroke-width="6.6" opacity="0.256"/>
<path d="M401.9 990.9Q429.5 991.5 457.0 990.9" stroke-width="6.4" opacity="0.256"/>
<path d="M401.9 1015.5Q429.5 1016.1 457.0 1015.5" stroke-width="7.6" opacity="0.35"/>
<path d="M469.5 978.7Q495.9 979.7 522.3 979.5" stroke-width="6.6" opacity="0.272"/>
<path d="M469.5 991.4Q495.9 992.4 522.3 992.2" stroke-width="6.4" opacity="0.272"/>
<path d="M469.5 1016.0Q495.9 1017.0 522.3 1016.8" stroke-width="7.6" opacity="0.35"/>
<path d="M534.0 980.0Q558.2 980.3 582.4 979.5" stroke-width="6.6" opacity="0.304"/>
<path d="M534.0 992.7Q558.2 993.1 582.4 992.2" stroke-width="6.4" opacity="0.304"/>
<path d="M534.0 1017.4Q558.2 1017.7 582.4 1016.8" stroke-width="7.6" opacity="0.35"/>
</g>
<g filter="url(#hs5)" stroke="#000" stroke-linecap="butt" fill="none">
<line x1="83.2" y1="1079.7" x2="146.3" y2="1082.1" stroke-width="5.8" opacity="0.315"/>
<line x1="151.3" y1="1081.5" x2="205.2" y2="1082.9" stroke-width="5.8" opacity="0.294"/>
<line x1="210.7" y1="1082.9" x2="264.3" y2="1084.7" stroke-width="5.8" opacity="0.273"/>
<line x1="269.8" y1="1084.7" x2="324.5" y2="1086.0" stroke-width="5.8" opacity="0.263"/>
<line x1="330.0" y1="1086.0" x2="388.9" y2="1083.7" stroke-width="5.8" opacity="0.242"/>
<line x1="395.7" y1="1082.9" x2="457.0" y2="1081.5" stroke-width="5.8" opacity="0.189"/>
<line x1="463.3" y1="1081.0" x2="522.3" y2="1081.5" stroke-width="5.8" opacity="0.168"/>
<line x1="527.8" y1="1082.3" x2="582.4" y2="1081.0" stroke-width="5.8" opacity="0.189"/>
</g>
</g>
<rect x="78.85" y="949.6" width="509.55" height="159.05" fill="none" stroke="#111" stroke-width="2.1"/>
<text transform="translate(27.6 1067.25) scale(1 1.04)" font-size="26.3">25</text>
<line x1="64" y1="1060.0" x2="78.5" y2="1060.0" stroke="#000" stroke-width="1.6"/>
<text transform="translate(598.3 994.5) scale(1 1.04)" font-size="26.3">&lt; 20S CP</text>
<text transform="translate(598.3 1025) scale(1 1.04)" font-size="26.3">&lt; Bpa <tspan class="b" font-size="26.3" fill="#CC9900">H131S-F138S-R145S</tspan></text>
<text transform="translate(598.3 1088.75) scale(1 1.04)" font-size="26.3">&lt; HspR</text>
</g>
<g id="gel7">
<rect x="78.85" y="1119.6" width="509.55" height="159.55" fill="#fefefe"/>
<clipPath id="c6"><rect x="79.5" y="1120.25" width="508.25" height="158.25"/></clipPath>
<g clip-path="url(#c6)">
<g filter="url(#sm6)" fill="#000">
<rect x="89.4" y="1146.4" width="51.3" height="34.5" opacity="0.04"/>
<rect x="87.4" y="1146.9" width="55.3" height="11" opacity="0.075"/>
<rect x="87.4" y="1159.4" width="55.3" height="11" opacity="0.075"/>
<rect x="152.0" y="1148.4" width="49.7" height="34.5" opacity="0.04"/>
<rect x="150.0" y="1148.9" width="53.7" height="11" opacity="0.075"/>
<rect x="150.0" y="1161.4" width="53.7" height="11" opacity="0.075"/>
<rect x="213.0" y="1150.1" width="48.9" height="34.5" opacity="0.04"/>
<rect x="211.0" y="1150.6" width="52.9" height="11" opacity="0.075"/>
<rect x="211.0" y="1163.1" width="52.9" height="11" opacity="0.075"/>
<rect x="274.0" y="1151.1" width="48.1" height="34.5" opacity="0.04"/>
<rect x="272.0" y="1151.6" width="52.1" height="11" opacity="0.075"/>
<rect x="272.0" y="1164.0" width="52.1" height="11" opacity="0.075"/>
<rect x="334.1" y="1149.6" width="53.7" height="34.5" opacity="0.04"/>
<rect x="332.1" y="1150.1" width="57.7" height="11" opacity="0.075"/>
<rect x="332.1" y="1162.6" width="57.7" height="11" opacity="0.075"/>
<rect x="400.4" y="1148.0" width="53.7" height="34.5" opacity="0.04"/>
<rect x="398.4" y="1148.5" width="57.7" height="11" opacity="0.075"/>
<rect x="398.4" y="1161.0" width="57.7" height="11" opacity="0.075"/>
<rect x="465.9" y="1148.1" width="51.8" height="34.5" opacity="0.04"/>
<rect x="463.9" y="1148.6" width="55.8" height="11" opacity="0.075"/>
<rect x="463.9" y="1161.1" width="55.8" height="11" opacity="0.075"/>
<rect x="529.5" y="1147.7" width="51.8" height="34.5" opacity="0.04"/>
<rect x="527.5" y="1148.2" width="55.8" height="11" opacity="0.075"/>
<rect x="527.5" y="1160.7" width="55.8" height="11" opacity="0.075"/>
</g>
<g filter="url(#bl6)" stroke="#000" stroke-linecap="round" fill="none">
<path d="M89.6 1151.1Q115.1 1153.0 140.5 1153.7" stroke-width="6.6" opacity="0.32"/>
<path d="M89.6 1163.6Q115.1 1165.5 140.5 1166.2" stroke-width="6.4" opacity="0.32"/>
<line x1="89.6" y1="1194.8" x2="140.5" y2="1196.2" stroke-width="3" opacity="0.07"/>
<path d="M152.2 1153.2Q176.8 1155.0 201.5 1155.6" stroke-width="6.6" opacity="0.32"/>
<path d="M152.2 1165.7Q176.8 1167.5 201.5 1168.1" stroke-width="6.4" opacity="0.32"/>
<line x1="152.2" y1="1196.7" x2="201.5" y2="1198.3" stroke-width="3" opacity="0.07"/>
<path d="M213.2 1155.1Q237.4 1156.7 261.7 1157.2" stroke-width="6.6" opacity="0.32"/>
<path d="M213.2 1167.5Q237.4 1169.2 261.7 1169.7" stroke-width="6.4" opacity="0.32"/>
<line x1="213.2" y1="1199.3" x2="261.7" y2="1200.9" stroke-width="3" opacity="0.07"/>
<path d="M274.2 1157.2Q298.0 1157.7 321.8 1156.9" stroke-width="6.6" opacity="0.32"/>
<path d="M274.2 1169.7Q298.0 1170.1 321.8 1169.4" stroke-width="6.4" opacity="0.32"/>
<line x1="274.2" y1="1202.0" x2="321.8" y2="1202.0" stroke-width="3" opacity="0.07"/>
<path d="M334.3 1156.9Q361.0 1156.2 387.6 1154.3" stroke-width="6.6" opacity="0.32"/>
<path d="M334.3 1169.4Q361.0 1168.7 387.6 1166.7" stroke-width="6.4" opacity="0.32"/>
<line x1="334.3" y1="1201.5" x2="387.6" y2="1200.1" stroke-width="3" opacity="0.07"/>
<path d="M400.6 1154.3Q427.2 1154.6 453.9 1153.7" stroke-width="6.6" opacity="0.32"/>
<path d="M400.6 1166.7Q427.2 1167.1 453.9 1166.2" stroke-width="6.4" opacity="0.32"/>
<line x1="400.6" y1="1200.1" x2="453.9" y2="1199.6" stroke-width="3" opacity="0.07"/>
<path d="M466.1 1154.5Q491.8 1154.7 517.5 1153.7" stroke-width="6.6" opacity="0.32"/>
<path d="M466.1 1167.0Q491.8 1167.2 517.5 1166.2" stroke-width="6.4" opacity="0.32"/>
<line x1="466.1" y1="1200.1" x2="517.5" y2="1199.3" stroke-width="3" opacity="0.07"/>
<path d="M529.7 1154.3Q555.4 1154.3 581.1 1153.2" stroke-width="6.6" opacity="0.32"/>
<path d="M529.7 1166.7Q555.4 1166.8 581.1 1165.7" stroke-width="6.4" opacity="0.32"/>
<line x1="529.7" y1="1199.3" x2="581.1" y2="1198.8" stroke-width="3" opacity="0.07"/>
</g>
<g filter="url(#hs6)" stroke="#000" stroke-linecap="butt" fill="none">
<line x1="77.9" y1="1246.5" x2="140.5" y2="1248.4" stroke-width="6.8" opacity="0.342"/>
<line x1="146.0" y1="1248.7" x2="201.5" y2="1251.8" stroke-width="6.8" opacity="0.323"/>
<line x1="207.0" y1="1253.2" x2="261.7" y2="1255.8" stroke-width="6.8" opacity="0.304"/>
<line x1="268.0" y1="1256.6" x2="321.8" y2="1257.1" stroke-width="6.8" opacity="0.304"/>
<line x1="328.1" y1="1257.1" x2="387.6" y2="1255.3" stroke-width="6.8" opacity="0.285"/>
<line x1="394.4" y1="1255.3" x2="453.9" y2="1254.5" stroke-width="6.8" opacity="0.285"/>
<line x1="459.9" y1="1254.5" x2="517.5" y2="1253.2" stroke-width="6.8" opacity="0.275"/>
<line x1="523.5" y1="1253.2" x2="581.1" y2="1251.8" stroke-width="6.8" opacity="0.266"/>
</g>
</g>
<rect x="78.85" y="1119.6" width="509.55" height="159.55" fill="none" stroke="#111" stroke-width="2.1"/>
<text transform="translate(27.6 1232.25) scale(1 1.04)" font-size="26.3">25</text>
<line x1="64" y1="1225.0" x2="78.5" y2="1225.0" stroke="#000" stroke-width="1.6"/>
<text transform="translate(598.3 1169.5) scale(1 1.04)" font-size="26.3">&lt; 20S CP</text>
<text transform="translate(598.3 1260) scale(1 1.04)" font-size="26.3">&lt; HspR</text>
</g>
</g>
<g id="panelB">
<text transform="translate(976.0 33) scale(1 1.04)" font-size="45" class="b">B</text>
<clipPath id="cB"><rect x="1118.7" y="51.0" width="470.79999999999995" height="482.75"/></clipPath>
<g id="B-R145S">
<path d="M1118.70 521.75L1154.91 431.37L1191.12 340.98L1227.34 273.66L1335.97 194.58L1553.25 147.50" fill="none" stroke="#37AD6B" stroke-width="4" stroke-linejoin="round" stroke-linecap="round"/>
<path d="M1154.91 417.24V445.49M1150.16 417.24h9.50M1150.16 445.49h9.50" stroke="#37AD6B" stroke-width="3.8" stroke-linecap="round" fill="none"/>
<path d="M1191.12 331.57V350.40M1186.38 331.57h9.50M1186.38 350.40h9.50" stroke="#37AD6B" stroke-width="3.8" stroke-linecap="round" fill="none"/>
<path d="M1227.34 264.25V283.08M1222.59 264.25h9.50M1222.59 283.08h9.50" stroke="#37AD6B" stroke-width="3.8" stroke-linecap="round" fill="none"/>
<path d="M1335.97 184.22V204.94M1331.22 184.22h9.50M1331.22 204.94h9.50" stroke="#37AD6B" stroke-width="3.8" stroke-linecap="round" fill="none"/>
<path d="M1553.25 138.09V156.92M1548.50 138.09h9.50M1548.50 156.92h9.50" stroke="#37AD6B" stroke-width="3.8" stroke-linecap="round" fill="none"/>
<path d="M1154.91 444.97L1166.81 424.07L1143.01 424.07Z" fill="#37AD6B" stroke="#37AD6B" stroke-width="2" stroke-linejoin="round"/>
<path d="M1191.12 354.58L1203.03 333.68L1179.22 333.68Z" fill="#37AD6B" stroke="#37AD6B" stroke-width="2" stroke-linejoin="round"/>
<path d="M1227.34 287.26L1239.24 266.36L1215.44 266.36Z" fill="#37AD6B" stroke="#37AD6B" stroke-width="2" stroke-linejoin="round"/>
<path d="M1335.97 208.18L1347.88 187.28L1324.07 187.28Z" fill="#37AD6B" stroke="#37AD6B" stroke-width="2" stroke-linejoin="round"/>
<path d="M1553.25 161.10L1565.15 140.20L1541.35 140.20Z" fill="#37AD6B" stroke="#37AD6B" stroke-width="2" stroke-linejoin="round"/>
</g>
<g id="B-F138S">
<path d="M1118.70 521.75L1154.91 378.17L1191.12 315.56L1227.34 280.73L1335.97 232.71L1553.25 199.29" fill="none" stroke="#1A6FDF" stroke-width="4" stroke-linejoin="round" stroke-linecap="round"/>
<path d="M1154.91 364.05V392.29M1150.16 364.05h9.50M1150.16 392.29h9.50" stroke="#1A6FDF" stroke-width="3.8" stroke-linecap="round" fill="none"/>
<path d="M1191.12 291.08V340.04M1186.38 291.08h9.50M1186.38 340.04h9.50" stroke="#1A6FDF" stroke-width="3.8" stroke-linecap="round" fill="none"/>
<path d="M1227.34 259.54V301.91M1222.59 259.54h9.50M1222.59 301.91h9.50" stroke="#1A6FDF" stroke-width="3.8" stroke-linecap="round" fill="none"/>
<path d="M1335.97 220.00V245.42M1331.22 220.00h9.50M1331.22 245.42h9.50" stroke="#1A6FDF" stroke-width="3.8" stroke-linecap="round" fill="none"/>
<path d="M1553.25 181.87V216.70M1548.50 181.87h9.50M1548.50 216.70h9.50" stroke="#1A6FDF" stroke-width="3.8" stroke-linecap="round" fill="none"/>
<path d="M1154.91 364.57L1166.81 385.47L1143.01 385.47Z" fill="#1A6FDF" stroke="#1A6FDF" stroke-width="2" stroke-linejoin="round"/>
<path d="M1191.12 301.96L1203.03 322.86L1179.22 322.86Z" fill="#1A6FDF" stroke="#1A6FDF" stroke-width="2" stroke-linejoin="round"/>
<path d="M1227.34 267.13L1239.24 288.03L1215.44 288.03Z" fill="#1A6FDF" stroke="#1A6FDF" stroke-width="2" stroke-linejoin="round"/>
<path d="M1335.97 219.11L1347.88 240.01L1324.07 240.01Z" fill="#1A6FDF" stroke="#1A6FDF" stroke-width="2" stroke-linejoin="round"/>
<path d="M1553.25 185.69L1565.15 206.59L1541.35 206.59Z" fill="#1A6FDF" stroke="#1A6FDF" stroke-width="2" stroke-linejoin="round"/>
</g>
<g id="B-H131S">
<path d="M1118.70 521.75L1154.91 401.71L1191.12 313.68L1227.34 254.36L1335.97 193.64L1553.25 153.62" fill="none" stroke="#F14040" stroke-width="4" stroke-linejoin="round" stroke-linecap="round"/>
<path d="M1154.91 371.11V432.31M1150.16 371.11h9.50M1150.16 432.31h9.50" stroke="#F14040" stroke-width="3.8" stroke-linecap="round" fill="none"/>
<path d="M1191.12 289.20V338.16M1186.38 289.20h9.50M1186.38 338.16h9.50" stroke="#F14040" stroke-width="3.8" stroke-linecap="round" fill="none"/>
<path d="M1227.34 243.54V265.19M1222.59 243.54h9.50M1222.59 265.19h9.50" stroke="#F14040" stroke-width="3.8" stroke-linecap="round" fill="none"/>
<path d="M1335.97 183.75V203.52M1331.22 183.75h9.50M1331.22 203.52h9.50" stroke="#F14040" stroke-width="3.8" stroke-linecap="round" fill="none"/>
<circle cx="1154.91" cy="401.71" r="11.00" fill="#F14040"/>
<circle cx="1191.12" cy="313.68" r="11.00" fill="#F14040"/>
<circle cx="1227.34" cy="254.36" r="11.00" fill="#F14040"/>
<circle cx="1335.97" cy="193.64" r="11.00" fill="#F14040"/>
<circle cx="1553.25" cy="153.62" r="11.00" fill="#F14040"/>
</g>
<g id="B-WT">
<path d="M1118.70 521.75L1154.91 345.22L1191.12 215.29L1227.34 153.62L1335.97 109.84L1553.25 87.72" fill="none" stroke="#515151" stroke-width="4" stroke-linejoin="round" stroke-linecap="round"/>
<path d="M1154.91 333.45V356.99M1150.16 333.45h9.50M1150.16 356.99h9.50" stroke="#515151" stroke-width="3.8" stroke-linecap="round" fill="none"/>
<path d="M1227.34 139.03V168.22M1222.59 139.03h9.50M1222.59 168.22h9.50" stroke="#515151" stroke-width="3.8" stroke-linecap="round" fill="none"/>
<rect x="1146.51" y="336.82" width="16.80" height="16.80" fill="#515151" stroke="#515151" stroke-width="3" stroke-linejoin="round"/>
<rect x="1182.72" y="206.89" width="16.80" height="16.80" fill="#515151" stroke="#515151" stroke-width="3" stroke-linejoin="round"/>
<rect x="1218.94" y="145.22" width="16.80" height="16.80" fill="#515151" stroke="#515151" stroke-width="3" stroke-linejoin="round"/>
<rect x="1327.57" y="101.44" width="16.80" height="16.80" fill="#515151" stroke="#515151" stroke-width="3" stroke-linejoin="round"/>
<rect x="1544.85" y="79.32" width="16.80" height="16.80" fill="#515151" stroke="#515151" stroke-width="3" stroke-linejoin="round"/>
</g>
<g id="B-triple">
<path d="M1118.70 521.75L1154.91 501.04L1191.12 458.20L1227.34 429.95L1335.97 381.94L1553.25 348.98" fill="none" stroke="#CC9900" stroke-width="4" stroke-linejoin="round" stroke-linecap="round"/>
<path d="M1154.91 491.62V510.45M1150.16 491.62h9.50M1150.16 510.45h9.50" stroke="#CC9900" stroke-width="3.8" stroke-linecap="round" fill="none"/>
<path d="M1191.12 446.43V469.97M1186.38 446.43h9.50M1186.38 469.97h9.50" stroke="#CC9900" stroke-width="3.8" stroke-linecap="round" fill="none"/>
<path d="M1227.34 413.95V445.96M1222.59 413.95h9.50M1222.59 445.96h9.50" stroke="#CC9900" stroke-width="3.8" stroke-linecap="round" fill="none"/>
<path d="M1335.97 370.17V393.71M1331.22 370.17h9.50M1331.22 393.71h9.50" stroke="#CC9900" stroke-width="3.8" stroke-linecap="round" fill="none"/>
<path d="M1553.25 337.22V360.75M1548.50 337.22h9.50M1548.50 360.75h9.50" stroke="#CC9900" stroke-width="3.8" stroke-linecap="round" fill="none"/>
<path d="M1140.91 501.04L1161.91 489.34L1161.91 512.74Z" fill="#CC9900" stroke="#CC9900" stroke-width="2" stroke-linejoin="round"/>
<path d="M1177.12 458.20L1198.12 446.50L1198.12 469.90Z" fill="#CC9900" stroke="#CC9900" stroke-width="2" stroke-linejoin="round"/>
<path d="M1213.34 429.95L1234.34 418.25L1234.34 441.65Z" fill="#CC9900" stroke="#CC9900" stroke-width="2" stroke-linejoin="round"/>
<path d="M1321.97 381.94L1342.97 370.24L1342.97 393.64Z" fill="#CC9900" stroke="#CC9900" stroke-width="2" stroke-linejoin="round"/>
<path d="M1539.25 348.98L1560.25 337.28L1560.25 360.68Z" fill="#CC9900" stroke="#CC9900" stroke-width="2" stroke-linejoin="round"/>
</g>
<g id="B-double">
<path d="M1118.70 521.75L1154.91 460.08L1191.12 405.00L1227.34 376.29L1335.97 308.03L1553.25 271.31" fill="none" stroke="#B177DE" stroke-width="4" stroke-linejoin="round" stroke-linecap="round"/>
<path d="M1154.91 450.67V469.50M1150.16 450.67h9.50M1150.16 469.50h9.50" stroke="#B177DE" stroke-width="3.8" stroke-linecap="round" fill="none"/>
<path d="M1191.12 364.05V445.96M1186.38 364.05h9.50M1186.38 445.96h9.50" stroke="#B177DE" stroke-width="3.8" stroke-linecap="round" fill="none"/>
<path d="M1227.34 333.45V419.13M1222.59 333.45h9.50M1222.59 419.13h9.50" stroke="#B177DE" stroke-width="3.8" stroke-linecap="round" fill="none"/>
<path d="M1335.97 285.43V330.63M1331.22 285.43h9.50M1331.22 330.63h9.50" stroke="#B177DE" stroke-width="3.8" stroke-linecap="round" fill="none"/>
<path d="M1553.25 251.07V291.55M1548.50 251.07h9.50M1548.50 291.55h9.50" stroke="#B177DE" stroke-width="3.8" stroke-linecap="round" fill="none"/>
<path d="M1154.91 446.88L1167.61 460.08L1154.91 473.28L1142.21 460.08Z" fill="#B177DE" stroke="#B177DE" stroke-width="2" stroke-linejoin="round"/>
<path d="M1191.12 391.80L1203.83 405.00L1191.12 418.20L1178.42 405.00Z" fill="#B177DE" stroke="#B177DE" stroke-width="2" stroke-linejoin="round"/>
<path d="M1227.34 363.09L1240.04 376.29L1227.34 389.49L1214.64 376.29Z" fill="#B177DE" stroke="#B177DE" stroke-width="2" stroke-linejoin="round"/>
<path d="M1335.97 294.83L1348.67 308.03L1335.97 321.23L1323.27 308.03Z" fill="#B177DE" stroke="#B177DE" stroke-width="2" stroke-linejoin="round"/>
<path d="M1553.25 258.11L1565.95 271.31L1553.25 284.51L1540.55 271.31Z" fill="#B177DE" stroke="#B177DE" stroke-width="2" stroke-linejoin="round"/>
</g>
<g id="B-neg">
<path d="M1118.70 521.75L1154.91 500.10L1191.12 479.38L1227.34 465.26L1335.97 418.19L1553.25 400.30" fill="none" stroke="#515151" stroke-width="4" stroke-linejoin="round" stroke-linecap="round" stroke-dasharray="9.7 17.1"/>
<path d="M1154.91 474.68V525.52M1150.16 474.68h9.50M1150.16 525.52h9.50" stroke="#515151" stroke-width="3.8" stroke-linecap="round" fill="none"/>
<path d="M1191.12 455.85V502.92M1186.38 455.85h9.50M1186.38 502.92h9.50" stroke="#515151" stroke-width="3.8" stroke-linecap="round" fill="none"/>
<path d="M1227.34 441.72V488.80M1222.59 441.72h9.50M1222.59 488.80h9.50" stroke="#515151" stroke-width="3.8" stroke-linecap="round" fill="none"/>
<path d="M1335.97 407.36V429.01M1331.22 407.36h9.50M1331.22 429.01h9.50" stroke="#515151" stroke-width="3.8" stroke-linecap="round" fill="none"/>
<path d="M1553.25 369.23V431.37M1548.50 369.23h9.50M1548.50 431.37h9.50" stroke="#515151" stroke-width="3.8" stroke-linecap="round" fill="none"/>
<path d="M1168.91 500.10L1147.91 488.30L1147.91 511.90Z" fill="#515151" stroke="#515151" stroke-width="2" stroke-linejoin="round"/>
<path d="M1205.12 479.38L1184.12 467.58L1184.12 491.18Z" fill="#515151" stroke="#515151" stroke-width="2" stroke-linejoin="round"/>
<path d="M1241.34 465.26L1220.34 453.46L1220.34 477.06Z" fill="#515151" stroke="#515151" stroke-width="2" stroke-linejoin="round"/>
<path d="M1349.97 418.19L1328.97 406.38L1328.97 429.99Z" fill="#515151" stroke="#515151" stroke-width="2" stroke-linejoin="round"/>
<path d="M1567.25 400.30L1546.25 388.50L1546.25 412.10Z" fill="#515151" stroke="#515151" stroke-width="2" stroke-linejoin="round"/>
</g>
<rect x="1118.7" y="51.0" width="470.79999999999995" height="470.75" fill="none" stroke="#000" stroke-width="4.3"/>
<path d="M1118.70 521.75v8.85M1118.70 51.0v8.85M1191.12 521.75v8.85M1191.12 51.0v8.85M1263.55 521.75v8.85M1263.55 51.0v8.85M1335.97 521.75v8.85M1335.97 51.0v8.85M1408.40 521.75v8.85M1408.40 51.0v8.85M1480.83 521.75v8.85M1480.83 51.0v8.85M1553.25 521.75v8.85M1553.25 51.0v8.85M1118.7 521.75h-9.5M1589.5 521.75h-9.5M1118.7 427.60h-9.5M1589.5 427.60h-9.5M1118.7 333.45h-9.5M1589.5 333.45h-9.5M1118.7 239.30h-9.5M1589.5 239.30h-9.5M1118.7 145.15h-9.5M1589.5 145.15h-9.5M1118.7 51.00h-9.5M1589.5 51.00h-9.5" stroke="#000" stroke-width="4.3" fill="none"/>
<path d="M1154.91 521.75v4.7M1154.91 51.0v4.7M1227.34 521.75v4.7M1227.34 51.0v4.7M1299.76 521.75v4.7M1299.76 51.0v4.7M1372.19 521.75v4.7M1372.19 51.0v4.7M1444.61 521.75v4.7M1444.61 51.0v4.7M1517.04 521.75v4.7M1517.04 51.0v4.7M1589.46 521.75v4.7M1589.46 51.0v4.7M1118.7 474.68h-4.7M1589.5 474.68h-4.7M1118.7 380.52h-4.7M1589.5 380.52h-4.7M1118.7 286.38h-4.7M1589.5 286.38h-4.7M1118.7 192.23h-4.7M1589.5 192.23h-4.7M1118.7 98.07h-4.7M1589.5 98.07h-4.7" stroke="#000" stroke-width="4.3" fill="none"/>
<text transform="translate(1105.4 528.8) scale(1 1.04)" font-size="26" text-anchor="end">0.0</text>
<text transform="translate(1105.4 434.65) scale(1 1.04)" font-size="26" text-anchor="end">0.2</text>
<text transform="translate(1105.4 340.5) scale(1 1.04)" font-size="26" text-anchor="end">0.4</text>
<text transform="translate(1105.4 246.35) scale(1 1.04)" font-size="26" text-anchor="end">0.6</text>
<text transform="translate(1105.4 152.2) scale(1 1.04)" font-size="26" text-anchor="end">0.8</text>
<text transform="translate(1105.4 58.05) scale(1 1.04)" font-size="26" text-anchor="end">1.0</text>
<text transform="translate(1119.4 556.0) scale(1 1.04)" font-size="26" text-anchor="middle">0</text>
<text transform="translate(1191.83 556.0) scale(1 1.04)" font-size="26" text-anchor="middle">10</text>
<text transform="translate(1264.25 556.0) scale(1 1.04)" font-size="26" text-anchor="middle">20</text>
<text transform="translate(1336.67 556.0) scale(1 1.04)" font-size="26" text-anchor="middle">30</text>
<text transform="translate(1409.1 556.0) scale(1 1.04)" font-size="26" text-anchor="middle">40</text>
<text transform="translate(1481.53 556.0) scale(1 1.04)" font-size="26" text-anchor="middle">50</text>
<text transform="translate(1553.95 556.0) scale(1 1.04)" font-size="26" text-anchor="middle">60</text>
<text transform="translate(1356.2 599.4) scale(1 1.04)" font-size="30" text-anchor="middle">Time (min)</text>
<text transform="translate(1040.5 281.8) rotate(-90) scale(1 1.04)" font-size="30" text-anchor="middle">Fraction degraded</text>
<line x1="1613.3" y1="66.30" x2="1668.7" y2="66.30" stroke="#515151" stroke-width="4" stroke-linecap="round"/>
<rect x="1632.20" y="57.90" width="16.80" height="16.80" fill="#515151" stroke="#515151" stroke-width="3" stroke-linejoin="round"/>
<text transform="translate(1683.0 74.6) scale(1 1.04)" font-size="26.15" dx="0 0 0 0 0 -0.9">Bpa WT</text>
<line x1="1613.3" y1="99.60" x2="1668.7" y2="99.60" stroke="#F14040" stroke-width="4" stroke-linecap="round"/>
<circle cx="1640.60" cy="99.60" r="11.00" fill="#F14040"/>
<text transform="translate(1683.0 107.9) scale(1 1.04)" font-size="26.15">Bpa H131S</text>
<line x1="1613.3" y1="132.90" x2="1668.7" y2="132.90" stroke="#1A6FDF" stroke-width="4" stroke-linecap="round"/>
<path d="M1640.60 119.30L1652.50 140.20L1628.70 140.20Z" fill="#1A6FDF" stroke="#1A6FDF" stroke-width="2" stroke-linejoin="round"/>
<text transform="translate(1683.0 141.2) scale(1 1.04)" font-size="26.15">Bpa F138S</text>
<line x1="1613.3" y1="166.20" x2="1668.7" y2="166.20" stroke="#37AD6B" stroke-width="4" stroke-linecap="round"/>
<path d="M1640.60 179.80L1652.50 158.90L1628.70 158.90Z" fill="#37AD6B" stroke="#37AD6B" stroke-width="2" stroke-linejoin="round"/>
<text transform="translate(1683.0 174.5) scale(1 1.04)" font-size="26.15">Bpa R145S</text>
<line x1="1613.3" y1="199.50" x2="1668.7" y2="199.50" stroke="#B177DE" stroke-width="4" stroke-linecap="round"/>
<path d="M1640.60 186.30L1653.30 199.50L1640.60 212.70L1627.90 199.50Z" fill="#B177DE" stroke="#B177DE" stroke-width="2" stroke-linejoin="round"/>
<text transform="translate(1683.0 207.8) scale(1 1.04)" font-size="26.15">Bpa H131S-F138S</text>
<line x1="1613.3" y1="232.80" x2="1668.7" y2="232.80" stroke="#CC9900" stroke-width="4" stroke-linecap="round"/>
<path d="M1627.30 232.80L1648.30 221.10L1648.30 244.50Z" fill="#CC9900" stroke="#CC9900" stroke-width="2" stroke-linejoin="round"/>
<text transform="translate(1683.0 241.1) scale(1 1.04)" font-size="26.15">Bpa H131S-F138S-R145S</text>
<line x1="1613.3" y1="266.10" x2="1668.7" y2="266.10" stroke="#515151" stroke-width="4" stroke-linecap="round" stroke-dasharray="9.7 17.1"/>
<path d="M1654.60 266.10L1633.60 254.30L1633.60 277.90Z" fill="#515151" stroke="#515151" stroke-width="2" stroke-linejoin="round"/>
<text transform="translate(1683.0 274.4) scale(1 1.04)" font-size="26.4">Negative control (no Bpa)</text>
</g>
<g id="panelC">
<text transform="translate(976.2 691.7) scale(0.96 1.075)" font-size="45" class="b">C</text>
<clipPath id="cC"><rect x="1118.8" y="708.75" width="469.79999999999995" height="470.1500000000001"/></clipPath>
<g id="C-triple">
<path d="M1118.80 1135.99L1124.67 1135.99L1130.55 1135.99L1136.42 1135.99L1142.29 1135.98L1148.16 1135.98L1154.03 1135.98L1159.91 1135.98L1165.78 1135.98L1171.65 1135.97L1177.52 1135.97L1183.40 1135.97L1189.27 1135.96L1195.14 1135.96L1201.01 1135.95L1206.89 1135.95L1212.76 1135.94L1218.63 1135.93L1224.50 1135.92L1230.38 1135.91L1236.25 1135.90L1242.12 1135.89L1247.99 1135.88L1253.87 1135.86L1259.74 1135.85L1265.61 1135.83L1271.48 1135.81L1277.36 1135.78L1283.23 1135.76L1289.10 1135.73L1294.97 1135.69L1300.85 1135.66L1306.72 1135.61L1312.59 1135.57L1318.46 1135.51L1324.34 1135.45L1330.21 1135.39L1336.08 1135.31L1341.95 1135.23L1347.83 1135.14L1353.70 1135.03L1359.57 1134.91L1365.44 1134.78L1371.32 1134.63L1377.19 1134.47L1383.06 1134.28L1388.93 1134.07L1394.81 1133.84L1400.68 1133.57L1406.55 1133.28L1412.42 1132.95L1418.30 1132.58L1424.17 1132.17L1430.04 1131.71L1435.91 1131.19L1441.79 1130.61L1447.66 1129.96L1453.53 1129.23L1459.40 1128.42L1465.28 1127.52L1471.15 1126.51L1477.02 1125.38L1482.89 1124.12L1488.77 1122.71L1494.64 1121.15L1500.51 1119.40L1506.38 1117.47L1512.26 1115.31L1518.13 1112.93L1524.00 1110.28L1529.88 1107.35L1535.75 1104.12L1541.62 1100.55L1547.49 1096.62L1553.37 1092.31L1559.24 1087.58L1565.11 1082.42L1570.98 1076.78L1576.86 1070.66L1582.73 1064.03L1588.60 1056.88" fill="none" stroke="#CC9900" stroke-width="3.8" stroke-linejoin="round" clip-path="url(#cC)"/>
<path d="M1151.30 1125.52L1160.48 1141.64L1142.12 1141.64Z" fill="#CC9900" stroke="#CC9900" stroke-width="2" stroke-linejoin="round"/>
<path d="M1186.60 1127.66L1195.78 1143.78L1177.42 1143.78Z" fill="#CC9900" stroke="#CC9900" stroke-width="2" stroke-linejoin="round"/>
<path d="M1222.50 1125.52L1231.68 1141.64L1213.32 1141.64Z" fill="#CC9900" stroke="#CC9900" stroke-width="2" stroke-linejoin="round"/>
<path d="M1257.60 1125.52L1266.78 1141.64L1248.42 1141.64Z" fill="#CC9900" stroke="#CC9900" stroke-width="2" stroke-linejoin="round"/>
<path d="M1292.90 1125.52L1302.08 1141.64L1283.72 1141.64Z" fill="#CC9900" stroke="#CC9900" stroke-width="2" stroke-linejoin="round"/>
<path d="M1328.00 1125.52L1337.18 1141.64L1318.82 1141.64Z" fill="#CC9900" stroke="#CC9900" stroke-width="2" stroke-linejoin="round"/>
<path d="M1363.80 1124.24L1372.98 1140.36L1354.62 1140.36Z" fill="#CC9900" stroke="#CC9900" stroke-width="2" stroke-linejoin="round"/>
<path d="M1399.20 1124.02L1408.38 1140.14L1390.02 1140.14Z" fill="#CC9900" stroke="#CC9900" stroke-width="2" stroke-linejoin="round"/>
<path d="M1434.40 1119.11L1443.58 1135.23L1425.22 1135.23Z" fill="#CC9900" stroke="#CC9900" stroke-width="2" stroke-linejoin="round"/>
<path d="M1469.80 1114.20L1478.98 1130.32L1460.62 1130.32Z" fill="#CC9900" stroke="#CC9900" stroke-width="2" stroke-linejoin="round"/>
<path d="M1505.00 1109.93L1514.18 1126.05L1495.82 1126.05Z" fill="#CC9900" stroke="#CC9900" stroke-width="2" stroke-linejoin="round"/>
</g>
<g id="C-double">
<path d="M1118.80 1135.91L1124.67 1135.89L1130.55 1135.88L1136.42 1135.87L1142.29 1135.85L1148.16 1135.83L1154.03 1135.81L1159.91 1135.79L1165.78 1135.76L1171.65 1135.74L1177.52 1135.70L1183.40 1135.67L1189.27 1135.63L1195.14 1135.58L1201.01 1135.53L1206.89 1135.47L1212.76 1135.41L1218.63 1135.34L1224.50 1135.26L1230.38 1135.16L1236.25 1135.06L1242.12 1134.95L1247.99 1134.82L1253.87 1134.68L1259.74 1134.52L1265.61 1134.34L1271.48 1134.13L1277.36 1133.91L1283.23 1133.65L1289.10 1133.37L1294.97 1133.05L1300.85 1132.69L1306.72 1132.29L1312.59 1131.85L1318.46 1131.35L1324.34 1130.78L1330.21 1130.16L1336.08 1129.45L1341.95 1128.67L1347.83 1127.79L1353.70 1126.81L1359.57 1125.72L1365.44 1124.50L1371.32 1123.14L1377.19 1121.62L1383.06 1119.93L1388.93 1118.05L1394.81 1115.96L1400.68 1113.65L1406.55 1111.08L1412.42 1108.24L1418.30 1105.09L1424.17 1101.62L1430.04 1097.81L1435.91 1093.61L1441.79 1089.00L1447.66 1083.97L1453.53 1078.47L1459.40 1072.50L1465.28 1066.02L1471.15 1059.02L1477.02 1051.48L1482.89 1043.41L1488.77 1034.78L1494.64 1025.62L1500.51 1015.94L1506.38 1005.76L1512.26 995.11L1518.13 984.03L1524.00 972.58L1529.88 960.81L1535.75 948.80L1541.62 936.62L1547.49 924.35L1553.37 912.06L1559.24 899.84L1565.11 887.76L1570.98 875.91L1576.86 864.35L1582.73 853.15L1588.60 842.36" fill="none" stroke="#B177DE" stroke-width="3.8" stroke-linejoin="round" clip-path="url(#cC)"/>
<path d="M1434.40 1091.35V1108.44M1430.65 1091.35h7.50M1430.65 1108.44h7.50" stroke="#B177DE" stroke-width="3.7" stroke-linecap="round" fill="none"/>
<path d="M1469.80 1045.00V1060.38M1466.05 1045.00h7.50M1466.05 1060.38h7.50" stroke="#B177DE" stroke-width="3.7" stroke-linecap="round" fill="none"/>
<path d="M1328.00 1124.57L1338.16 1135.15L1328.00 1145.72L1317.84 1135.15Z" fill="#B177DE" stroke="#B177DE" stroke-width="2" stroke-linejoin="round"/>
<path d="M1363.80 1118.59L1373.96 1129.16L1363.80 1139.74L1353.64 1129.16Z" fill="#B177DE" stroke="#B177DE" stroke-width="2" stroke-linejoin="round"/>
<path d="M1399.20 1111.76L1409.36 1122.33L1399.20 1132.90L1389.04 1122.33Z" fill="#B177DE" stroke="#B177DE" stroke-width="2" stroke-linejoin="round"/>
<path d="M1434.40 1089.33L1444.56 1099.90L1434.40 1110.47L1424.24 1099.90Z" fill="#B177DE" stroke="#B177DE" stroke-width="2" stroke-linejoin="round"/>
<path d="M1469.80 1042.11L1479.96 1052.69L1469.80 1063.26L1459.64 1052.69Z" fill="#B177DE" stroke="#B177DE" stroke-width="2" stroke-linejoin="round"/>
<path d="M1505.00 984.01L1515.16 994.58L1505.00 1005.15L1494.84 994.58Z" fill="#B177DE" stroke="#B177DE" stroke-width="2" stroke-linejoin="round"/>
</g>
<g id="C-R145S">
<path d="M1118.80 1135.80L1124.67 1135.78L1130.55 1135.75L1136.42 1135.72L1142.29 1135.69L1148.16 1135.65L1154.03 1135.61L1159.91 1135.56L1165.78 1135.51L1171.65 1135.45L1177.52 1135.38L1183.40 1135.31L1189.27 1135.22L1195.14 1135.13L1201.01 1135.02L1206.89 1134.91L1212.76 1134.77L1218.63 1134.62L1224.50 1134.46L1230.38 1134.27L1236.25 1134.06L1242.12 1133.82L1247.99 1133.56L1253.87 1133.26L1259.74 1132.93L1265.61 1132.56L1271.48 1132.14L1277.36 1131.68L1283.23 1131.16L1289.10 1130.57L1294.97 1129.92L1300.85 1129.19L1306.72 1128.37L1312.59 1127.46L1318.46 1126.44L1324.34 1125.30L1330.21 1124.04L1336.08 1122.62L1341.95 1121.05L1347.83 1119.29L1353.70 1117.34L1359.57 1115.18L1365.44 1112.77L1371.32 1110.11L1377.19 1107.17L1383.06 1103.91L1388.93 1100.32L1394.81 1096.38L1400.68 1092.04L1406.55 1087.29L1412.42 1082.09L1418.30 1076.43L1424.17 1070.28L1430.04 1063.62L1435.91 1056.43L1441.79 1048.71L1447.66 1040.44L1453.53 1031.63L1459.40 1022.28L1465.28 1012.42L1471.15 1002.07L1477.02 991.26L1482.89 980.05L1488.77 968.48L1494.64 956.62L1500.51 944.54L1506.38 932.31L1512.26 920.02L1518.13 907.75L1524.00 895.57L1529.88 883.57L1535.75 871.81L1541.62 860.37L1547.49 849.31L1553.37 838.67L1559.24 828.50L1565.11 818.84L1570.98 809.69L1576.86 801.09L1582.73 793.03L1588.60 785.51" fill="none" stroke="#37AD6B" stroke-width="3.8" stroke-linejoin="round" clip-path="url(#cC)"/>
<path d="M1151.30 1118.06V1135.15M1147.55 1118.06h7.50M1147.55 1135.15h7.50" stroke="#37AD6B" stroke-width="3.7" stroke-linecap="round" fill="none"/>
<path d="M1186.60 1118.91V1136.00M1182.85 1118.91h7.50M1182.85 1136.00h7.50" stroke="#37AD6B" stroke-width="3.7" stroke-linecap="round" fill="none"/>
<path d="M1363.80 1112.50V1129.59M1360.05 1112.50h7.50M1360.05 1129.59h7.50" stroke="#37AD6B" stroke-width="3.7" stroke-linecap="round" fill="none"/>
<path d="M1434.40 1046.70V1082.59M1430.65 1046.70h7.50M1430.65 1082.59h7.50" stroke="#37AD6B" stroke-width="3.7" stroke-linecap="round" fill="none"/>
<path d="M1469.80 966.38V1006.54M1466.05 966.38h7.50M1466.05 1006.54h7.50" stroke="#37AD6B" stroke-width="3.7" stroke-linecap="round" fill="none"/>
<path d="M1505.00 886.91V916.82M1501.25 886.91h7.50M1501.25 916.82h7.50" stroke="#37AD6B" stroke-width="3.7" stroke-linecap="round" fill="none"/>
<path d="M1151.30 1137.08L1160.48 1120.96L1142.12 1120.96Z" fill="#37AD6B" stroke="#37AD6B" stroke-width="2" stroke-linejoin="round"/>
<path d="M1186.60 1137.93L1195.78 1121.81L1177.42 1121.81Z" fill="#37AD6B" stroke="#37AD6B" stroke-width="2" stroke-linejoin="round"/>
<path d="M1222.50 1146.48L1231.68 1130.36L1213.32 1130.36Z" fill="#37AD6B" stroke="#37AD6B" stroke-width="2" stroke-linejoin="round"/>
<path d="M1257.60 1133.66L1266.78 1117.54L1248.42 1117.54Z" fill="#37AD6B" stroke="#37AD6B" stroke-width="2" stroke-linejoin="round"/>
<path d="M1292.90 1137.93L1302.08 1121.81L1283.72 1121.81Z" fill="#37AD6B" stroke="#37AD6B" stroke-width="2" stroke-linejoin="round"/>
<path d="M1328.00 1131.53L1337.18 1115.41L1318.82 1115.41Z" fill="#37AD6B" stroke="#37AD6B" stroke-width="2" stroke-linejoin="round"/>
<path d="M1363.80 1131.53L1372.98 1115.41L1354.62 1115.41Z" fill="#37AD6B" stroke="#37AD6B" stroke-width="2" stroke-linejoin="round"/>
<path d="M1399.20 1122.98L1408.38 1106.86L1390.02 1106.86Z" fill="#37AD6B" stroke="#37AD6B" stroke-width="2" stroke-linejoin="round"/>
<path d="M1434.40 1075.13L1443.58 1059.01L1425.22 1059.01Z" fill="#37AD6B" stroke="#37AD6B" stroke-width="2" stroke-linejoin="round"/>
<path d="M1469.80 996.94L1478.98 980.82L1460.62 980.82Z" fill="#37AD6B" stroke="#37AD6B" stroke-width="2" stroke-linejoin="round"/>
<path d="M1505.00 912.35L1514.18 896.23L1495.82 896.23Z" fill="#37AD6B" stroke="#37AD6B" stroke-width="2" stroke-linejoin="round"/>
</g>
<g id="C-H131S">
<path d="M1118.80 1135.79L1124.67 1135.77L1130.55 1135.74L1136.42 1135.71L1142.29 1135.67L1148.16 1135.63L1154.03 1135.59L1159.91 1135.54L1165.78 1135.48L1171.65 1135.42L1177.52 1135.35L1183.40 1135.27L1189.27 1135.18L1195.14 1135.08L1201.01 1134.96L1206.89 1134.84L1212.76 1134.70L1218.63 1134.54L1224.50 1134.36L1230.38 1134.16L1236.25 1133.94L1242.12 1133.69L1247.99 1133.40L1253.87 1133.09L1259.74 1132.74L1265.61 1132.34L1271.48 1131.90L1277.36 1131.41L1283.23 1130.85L1289.10 1130.23L1294.97 1129.54L1300.85 1128.77L1306.72 1127.90L1312.59 1126.93L1318.46 1125.85L1324.34 1124.65L1330.21 1123.30L1336.08 1121.80L1341.95 1120.14L1347.83 1118.28L1353.70 1116.22L1359.57 1113.93L1365.44 1111.39L1371.32 1108.58L1377.19 1105.48L1383.06 1102.05L1388.93 1098.27L1394.81 1094.12L1400.68 1089.56L1406.55 1084.58L1412.42 1079.14L1418.30 1073.22L1424.17 1066.80L1430.04 1059.87L1435.91 1052.39L1441.79 1044.38L1447.66 1035.82L1453.53 1026.72L1459.40 1017.10L1465.28 1006.97L1471.15 996.38L1477.02 985.35L1482.89 973.94L1488.77 962.21L1494.64 950.22L1500.51 938.05L1506.38 925.79L1512.26 913.49L1518.13 901.26L1524.00 889.17L1529.88 877.28L1535.75 865.69L1541.62 854.44L1547.49 843.60L1553.37 833.21L1559.24 823.30L1565.11 813.91L1570.98 805.05L1576.86 796.73L1582.73 788.96L1588.60 781.73" fill="none" stroke="#F14040" stroke-width="3.8" stroke-linejoin="round" clip-path="url(#cC)"/>
<path d="M1434.40 1062.09V1083.45M1430.65 1062.09h7.50M1430.65 1083.45h7.50" stroke="#F14040" stroke-width="3.7" stroke-linecap="round" fill="none"/>
<path d="M1469.80 981.76V998.85M1466.05 981.76h7.50M1466.05 998.85h7.50" stroke="#F14040" stroke-width="3.7" stroke-linecap="round" fill="none"/>
<circle cx="1151.30" cy="1136.00" r="9.02" fill="#F14040"/>
<circle cx="1186.60" cy="1136.00" r="9.02" fill="#F14040"/>
<circle cx="1222.50" cy="1136.00" r="9.02" fill="#F14040"/>
<circle cx="1257.60" cy="1136.00" r="9.02" fill="#F14040"/>
<circle cx="1292.90" cy="1136.00" r="9.02" fill="#F14040"/>
<circle cx="1328.00" cy="1123.18" r="9.02" fill="#F14040"/>
<circle cx="1363.80" cy="1110.79" r="9.02" fill="#F14040"/>
<circle cx="1399.20" cy="1095.62" r="9.02" fill="#F14040"/>
<circle cx="1434.40" cy="1072.77" r="9.02" fill="#F14040"/>
<circle cx="1469.80" cy="990.31" r="9.02" fill="#F14040"/>
<circle cx="1505.00" cy="918.96" r="9.02" fill="#F14040"/>
</g>
<g id="C-WT">
<path d="M1118.80 1135.04L1124.67 1134.93L1130.55 1134.79L1136.42 1134.65L1142.29 1134.48L1148.16 1134.30L1154.03 1134.09L1159.91 1133.86L1165.78 1133.60L1171.65 1133.31L1177.52 1132.99L1183.40 1132.62L1189.27 1132.21L1195.14 1131.75L1201.01 1131.24L1206.89 1130.67L1212.76 1130.03L1218.63 1129.31L1224.50 1128.51L1230.38 1127.61L1236.25 1126.61L1242.12 1125.49L1247.99 1124.25L1253.87 1122.86L1259.74 1121.31L1265.61 1119.58L1271.48 1117.67L1277.36 1115.54L1283.23 1113.17L1289.10 1110.55L1294.97 1107.65L1300.85 1104.45L1306.72 1100.92L1312.59 1097.03L1318.46 1092.75L1324.34 1088.07L1330.21 1082.94L1336.08 1077.36L1341.95 1071.29L1347.83 1064.71L1353.70 1057.61L1359.57 1049.97L1365.44 1041.78L1371.32 1033.06L1377.19 1023.79L1383.06 1014.01L1388.93 1003.74L1394.81 993.00L1400.68 981.85L1406.55 970.33L1412.42 958.51L1418.30 946.46L1424.17 934.26L1430.04 921.97L1435.91 909.69L1441.79 897.49L1447.66 885.45L1453.53 873.65L1459.40 862.16L1465.28 851.03L1471.15 840.33L1477.02 830.08L1482.89 820.33L1488.77 811.10L1494.64 802.41L1500.51 794.27L1506.38 786.66L1512.26 779.59L1518.13 773.05L1524.00 767.01L1529.88 761.46L1535.75 756.36L1541.62 751.71L1547.49 747.46L1553.37 743.59L1559.24 740.08L1565.11 736.90L1570.98 734.02L1576.86 731.42L1582.73 729.07L1588.60 726.95" fill="none" stroke="#515151" stroke-width="3.8" stroke-linejoin="round" clip-path="url(#cC)"/>
<path d="M1151.30 1106.73V1143.90M1147.55 1106.73h7.50M1147.55 1143.90h7.50" stroke="#515151" stroke-width="3.7" stroke-linecap="round" fill="none"/>
<path d="M1186.60 1118.48V1148.39M1182.85 1118.48h7.50M1182.85 1148.39h7.50" stroke="#515151" stroke-width="3.7" stroke-linecap="round" fill="none"/>
<path d="M1222.50 1078.32V1167.19M1218.75 1078.32h7.50M1218.75 1167.19h7.50" stroke="#515151" stroke-width="3.7" stroke-linecap="round" fill="none"/>
<path d="M1257.60 1101.82V1129.16M1253.85 1101.82h7.50M1253.85 1129.16h7.50" stroke="#515151" stroke-width="3.7" stroke-linecap="round" fill="none"/>
<path d="M1292.90 1086.01V1142.41M1289.15 1086.01h7.50M1289.15 1142.41h7.50" stroke="#515151" stroke-width="3.7" stroke-linecap="round" fill="none"/>
<path d="M1328.00 1062.94V1105.67M1324.25 1062.94h7.50M1324.25 1105.67h7.50" stroke="#515151" stroke-width="3.7" stroke-linecap="round" fill="none"/>
<path d="M1363.80 1012.10V1044.57M1360.05 1012.10h7.50M1360.05 1044.57h7.50" stroke="#515151" stroke-width="3.7" stroke-linecap="round" fill="none"/>
<path d="M1399.20 989.88V1026.62M1395.45 989.88h7.50M1395.45 1026.62h7.50" stroke="#515151" stroke-width="3.7" stroke-linecap="round" fill="none"/>
<path d="M1434.40 787.79V920.24M1430.65 787.79h7.50M1430.65 920.24h7.50" stroke="#515151" stroke-width="3.7" stroke-linecap="round" fill="none"/>
<path d="M1469.80 757.71V871.36M1466.05 757.71h7.50M1466.05 871.36h7.50" stroke="#515151" stroke-width="3.7" stroke-linecap="round" fill="none"/>
<path d="M1505.00 742.93V847.18M1501.25 742.93h7.50M1501.25 847.18h7.50" stroke="#515151" stroke-width="3.7" stroke-linecap="round" fill="none"/>
<rect x="1143.30" y="1117.31" width="16.01" height="16.01" fill="#515151" stroke="#515151" stroke-width="3" stroke-linejoin="round"/>
<rect x="1178.60" y="1125.43" width="16.01" height="16.01" fill="#515151" stroke="#515151" stroke-width="3" stroke-linejoin="round"/>
<rect x="1214.50" y="1114.75" width="16.01" height="16.01" fill="#515151" stroke="#515151" stroke-width="3" stroke-linejoin="round"/>
<rect x="1249.60" y="1107.49" width="16.01" height="16.01" fill="#515151" stroke="#515151" stroke-width="3" stroke-linejoin="round"/>
<rect x="1284.90" y="1106.21" width="16.01" height="16.01" fill="#515151" stroke="#515151" stroke-width="3" stroke-linejoin="round"/>
<rect x="1320.00" y="1076.30" width="16.01" height="16.01" fill="#515151" stroke="#515151" stroke-width="3" stroke-linejoin="round"/>
<rect x="1355.80" y="1020.33" width="16.01" height="16.01" fill="#515151" stroke="#515151" stroke-width="3" stroke-linejoin="round"/>
<rect x="1391.20" y="1000.25" width="16.01" height="16.01" fill="#515151" stroke="#515151" stroke-width="3" stroke-linejoin="round"/>
<rect x="1426.40" y="846.01" width="16.01" height="16.01" fill="#515151" stroke="#515151" stroke-width="3" stroke-linejoin="round"/>
<rect x="1461.80" y="806.53" width="16.01" height="16.01" fill="#515151" stroke="#515151" stroke-width="3" stroke-linejoin="round"/>
<rect x="1497.00" y="787.05" width="16.01" height="16.01" fill="#515151" stroke="#515151" stroke-width="3" stroke-linejoin="round"/>
</g>
<rect x="1118.8" y="708.75" width="469.79999999999995" height="470.1500000000001" fill="none" stroke="#000" stroke-width="4.3"/>
<path d="M1118.80 1178.9v8.85M1118.80 708.75v8.85M1236.25 1178.9v8.85M1236.25 708.75v8.85M1353.70 1178.9v8.85M1353.70 708.75v8.85M1471.15 1178.9v8.85M1471.15 708.75v8.85M1588.60 1178.9v8.85M1588.60 708.75v8.85M1118.8 1136.00h-9.5M1588.6 1136.00h-9.5M1118.8 1050.55h-9.5M1588.6 1050.55h-9.5M1118.8 965.10h-9.5M1588.6 965.10h-9.5M1118.8 879.65h-9.5M1588.6 879.65h-9.5M1118.8 794.20h-9.5M1588.6 794.20h-9.5M1118.8 708.75h-9.5M1588.6 708.75h-9.5" stroke="#000" stroke-width="4.3" fill="none"/>
<path d="M1154.16 1178.9v4.7M1154.16 708.75v4.7M1174.84 1178.9v4.7M1174.84 708.75v4.7M1189.51 1178.9v4.7M1189.51 708.75v4.7M1200.89 1178.9v4.7M1200.89 708.75v4.7M1210.19 1178.9v4.7M1210.19 708.75v4.7M1218.06 1178.9v4.7M1218.06 708.75v4.7M1224.87 1178.9v4.7M1224.87 708.75v4.7M1230.88 1178.9v4.7M1230.88 708.75v4.7M1271.61 1178.9v4.7M1271.61 708.75v4.7M1292.29 1178.9v4.7M1292.29 708.75v4.7M1306.96 1178.9v4.7M1306.96 708.75v4.7M1318.34 1178.9v4.7M1318.34 708.75v4.7M1327.64 1178.9v4.7M1327.64 708.75v4.7M1335.51 1178.9v4.7M1335.51 708.75v4.7M1342.32 1178.9v4.7M1342.32 708.75v4.7M1348.33 1178.9v4.7M1348.33 708.75v4.7M1389.06 1178.9v4.7M1389.06 708.75v4.7M1409.74 1178.9v4.7M1409.74 708.75v4.7M1424.41 1178.9v4.7M1424.41 708.75v4.7M1435.79 1178.9v4.7M1435.79 708.75v4.7M1445.09 1178.9v4.7M1445.09 708.75v4.7M1452.96 1178.9v4.7M1452.96 708.75v4.7M1459.77 1178.9v4.7M1459.77 708.75v4.7M1465.78 1178.9v4.7M1465.78 708.75v4.7M1506.51 1178.9v4.7M1506.51 708.75v4.7M1527.19 1178.9v4.7M1527.19 708.75v4.7M1541.86 1178.9v4.7M1541.86 708.75v4.7M1553.24 1178.9v4.7M1553.24 708.75v4.7M1562.54 1178.9v4.7M1562.54 708.75v4.7M1570.41 1178.9v4.7M1570.41 708.75v4.7M1577.22 1178.9v4.7M1577.22 708.75v4.7M1583.23 1178.9v4.7M1583.23 708.75v4.7M1118.8 1093.28h-4.7M1588.6 1093.28h-4.7M1118.8 1007.83h-4.7M1588.6 1007.83h-4.7M1118.8 922.38h-4.7M1588.6 922.38h-4.7M1118.8 836.92h-4.7M1588.6 836.92h-4.7M1118.8 751.47h-4.7M1588.6 751.47h-4.7" stroke="#000" stroke-width="4.3" fill="none"/>
<text transform="translate(1105.4 1143.1) scale(1 1.04)" font-size="26" text-anchor="end">0.0</text>
<text transform="translate(1105.4 1057.65) scale(1 1.04)" font-size="26" text-anchor="end">0.2</text>
<text transform="translate(1105.4 972.2) scale(1 1.04)" font-size="26" text-anchor="end">0.4</text>
<text transform="translate(1105.4 886.75) scale(1 1.04)" font-size="26" text-anchor="end">0.6</text>
<text transform="translate(1105.4 801.3) scale(1 1.04)" font-size="26" text-anchor="end">0.8</text>
<text transform="translate(1105.4 715.85) scale(1 1.04)" font-size="26" text-anchor="end">1.0</text>
<text transform="translate(1120.1 1212.7) scale(1 1.04)" font-size="26" text-anchor="middle">0.01</text>
<text transform="translate(1237.55 1212.7) scale(1 1.04)" font-size="26" text-anchor="middle">0.1</text>
<text transform="translate(1355.0 1212.7) scale(1 1.04)" font-size="26" text-anchor="middle">1</text>
<text transform="translate(1472.45 1212.7) scale(1 1.04)" font-size="26" text-anchor="middle">10</text>
<text transform="translate(1589.9 1212.7) scale(1 1.04)" font-size="26" text-anchor="middle">100</text>
<text transform="translate(1354.3 1256.6) scale(1 1.04)" font-size="30" text-anchor="middle" dx="0 0 0 0 0 0 -1">HspR WT concentration (µM)</text>
<text transform="translate(1040.5 943.8) rotate(-90) scale(1 1.04)" font-size="30" text-anchor="middle">Fraction bound</text>
<line x1="1613.4" y1="723.60" x2="1669" y2="723.60" stroke="#515151" stroke-width="4" stroke-linecap="round"/>
<rect x="1632.70" y="715.20" width="16.80" height="16.80" fill="#515151" stroke="#515151" stroke-width="3" stroke-linejoin="round"/>
<text transform="translate(1691.0 732.8) scale(1 1.04)" font-size="26.15" dx="0 0 0 0 0 -0.9">Bpa WT</text>
<line x1="1613.4" y1="757.25" x2="1669" y2="757.25" stroke="#F14040" stroke-width="4" stroke-linecap="round"/>
<circle cx="1641.10" cy="757.25" r="11.00" fill="#F14040"/>
<text transform="translate(1691.0 766.45) scale(1 1.04)" font-size="26.15">Bpa H131S</text>
<line x1="1613.4" y1="790.90" x2="1669" y2="790.90" stroke="#37AD6B" stroke-width="4" stroke-linecap="round"/>
<path d="M1641.10 804.50L1653.00 783.60L1629.20 783.60Z" fill="#37AD6B" stroke="#37AD6B" stroke-width="2" stroke-linejoin="round"/>
<text transform="translate(1691.0 800.1) scale(1 1.04)" font-size="26.15">Bpa R145S</text>
<line x1="1613.4" y1="824.55" x2="1669" y2="824.55" stroke="#B177DE" stroke-width="4" stroke-linecap="round"/>
<path d="M1641.10 811.35L1653.80 824.55L1641.10 837.75L1628.40 824.55Z" fill="#B177DE" stroke="#B177DE" stroke-width="2" stroke-linejoin="round"/>
<text transform="translate(1691.0 833.75) scale(1 1.04)" font-size="26.15">Bpa H131S-F138S</text>
<line x1="1613.4" y1="858.20" x2="1669" y2="858.20" stroke="#CC9900" stroke-width="4" stroke-linecap="round"/>
<path d="M1627.80 858.20L1648.80 846.50L1648.80 869.90Z" fill="#CC9900" stroke="#CC9900" stroke-width="2" stroke-linejoin="round"/>
<text transform="translate(1691.0 867.4) scale(1 1.04)" font-size="26.15">Bpa H131S-F138S-R145S</text>
</g>
</svg>
</body></html>
